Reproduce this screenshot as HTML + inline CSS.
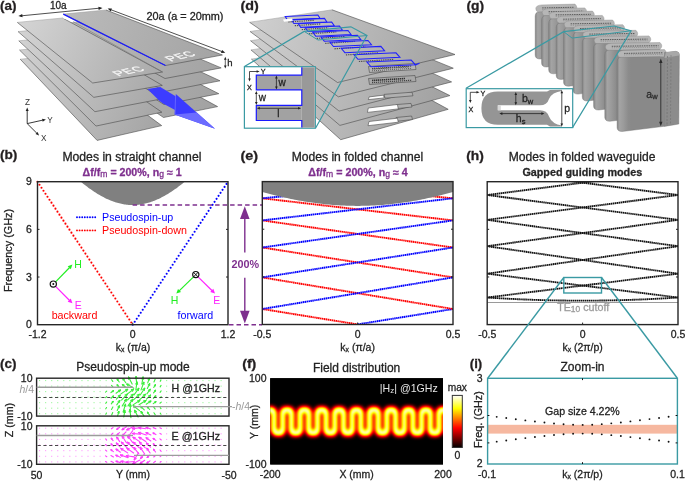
<!DOCTYPE html>
<html><head><meta charset="utf-8"><style>
html,body{margin:0;padding:0;background:#fff;}
svg{display:block;will-change:transform;}
text{font-family:"Liberation Sans",sans-serif;stroke-width:0.28px;paint-order:stroke;}
</style></head><body>
<svg width="685" height="481" viewBox="0 0 685 481">
<rect width="685" height="481" fill="#fff"/>
<polygon points="81.08,181.99 82.11,182.84 83.14,183.67 84.18,184.48 85.21,185.29 86.24,186.08 87.28,186.86 88.31,187.63 89.34,188.38 90.38,189.12 91.41,189.84 92.44,190.55 93.48,191.25 94.51,191.93 95.55,192.60 96.58,193.25 97.61,193.89 98.65,194.51 99.68,195.11 100.71,195.70 101.75,196.28 102.78,196.83 103.81,197.37 104.85,197.90 105.88,198.40 106.91,198.89 107.95,199.37 108.98,199.82 110.01,200.26 111.05,200.68 112.08,201.08 113.11,201.46 114.15,201.82 115.18,202.17 116.21,202.49 117.25,202.80 118.28,203.09 119.31,203.36 120.35,203.61 121.38,203.84 122.42,204.05 123.45,204.24 124.48,204.41 125.52,204.56 126.55,204.69 127.58,204.80 128.62,204.89 129.65,204.97 130.68,205.02 131.72,205.05 132.75,205.06 133.78,205.05 134.82,205.02 135.85,204.97 136.88,204.89 137.92,204.80 138.95,204.69 139.98,204.56 141.02,204.41 142.05,204.24 143.08,204.05 144.12,203.84 145.15,203.61 146.19,203.36 147.22,203.09 148.25,202.80 149.29,202.49 150.32,202.17 151.35,201.82 152.39,201.46 153.42,201.08 154.45,200.68 155.49,200.26 156.52,199.82 157.55,199.37 158.59,198.89 159.62,198.40 160.65,197.90 161.69,197.37 162.72,196.83 163.75,196.28 164.79,195.70 165.82,195.11 166.85,194.51 167.89,193.89 168.92,193.25 169.95,192.60 170.99,191.93 172.02,191.25 173.06,190.55 174.09,189.84 175.12,189.12 176.16,188.38 177.19,187.63 178.22,186.86 179.26,186.08 180.29,185.29 181.32,184.48 182.36,183.67 183.39,182.84 184.42,181.99" fill="#808080" stroke="none" stroke-width="0.5" />
<line x1="37.5" y1="181.7" x2="132.75" y2="324.7" stroke="#ff0000" stroke-width="2.1" stroke-linecap="round" stroke-dasharray="0 3.6"/>
<line x1="132.75" y1="324.7" x2="228" y2="181.7" stroke="#0000ff" stroke-width="2.1" stroke-linecap="round" stroke-dasharray="0 3.6"/>
<rect x="37.5" y="181.7" width="190.5" height="143.0" fill="none" stroke="#262626" stroke-width="1.4"/>
<line x1="37.50" y1="277.03" x2="39.50" y2="277.03" stroke="#262626" stroke-width="1" />
<line x1="228.00" y1="277.03" x2="226.00" y2="277.03" stroke="#262626" stroke-width="1" />
<line x1="37.50" y1="229.37" x2="39.50" y2="229.37" stroke="#262626" stroke-width="1" />
<line x1="228.00" y1="229.37" x2="226.00" y2="229.37" stroke="#262626" stroke-width="1" />
<line x1="132.75" y1="324.70" x2="132.75" y2="322.70" stroke="#262626" stroke-width="1" />
<text x="31.80" y="328.40" font-size="10.5" text-anchor="end" fill="#222" stroke="#222" font-weight="normal" >0</text>
<text x="31.80" y="280.73" font-size="10.5" text-anchor="end" fill="#222" stroke="#222" font-weight="normal" >3</text>
<text x="31.80" y="233.07" font-size="10.5" text-anchor="end" fill="#222" stroke="#222" font-weight="normal" >6</text>
<text x="31.80" y="185.40" font-size="10.5" text-anchor="end" fill="#222" stroke="#222" font-weight="normal" >9</text>
<text x="37.50" y="338.00" font-size="10.5" text-anchor="middle" fill="#222" stroke="#222" font-weight="normal" >-1.2</text>
<text x="132.75" y="338.00" font-size="10.5" text-anchor="middle" fill="#222" stroke="#222" font-weight="normal" >0</text>
<text x="228.00" y="338.00" font-size="10.5" text-anchor="middle" fill="#222" stroke="#222" font-weight="normal" >1.2</text>
<text x="133" y="351" font-size="10.5" text-anchor="middle" fill="#222" stroke="#222" font-family="Liberation Sans, sans-serif">k<tspan font-size="6.8" dy="0.6">x</tspan><tspan dy="-0.6"> (π/a)</tspan></text>
<text transform="translate(11.9,250.5) rotate(-90)" font-size="10.8" text-anchor="middle" fill="#222" stroke="#222" font-family="Liberation Sans, sans-serif" textLength="83" lengthAdjust="spacingAndGlyphs">Frequency (GHz)</text>
<text x="131.90" y="161.00" font-size="12" text-anchor="middle" fill="#222" stroke="#222" font-weight="normal" textLength="139" lengthAdjust="spacingAndGlyphs" >Modes in straight channel</text>
<text x="82.6" y="176" font-size="10.2" font-weight="bold" fill="#7E2F8E" stroke="#7E2F8E" font-family="Liberation Sans, sans-serif" textLength="99" lengthAdjust="spacingAndGlyphs">Δf/f<tspan font-size="8.2" font-weight="normal" dy="0.8">m</tspan><tspan dy="-0.8"> = 200%, n</tspan><tspan font-size="8.2" font-weight="normal" dy="1.2">g</tspan><tspan dy="-1.2"> ≈ 1</tspan></text>
<text x="0.00" y="159.40" font-size="12.3" text-anchor="start" fill="#231f20" stroke="#231f20" font-weight="bold" textLength="17.4" lengthAdjust="spacingAndGlyphs" >(b)</text>
<line x1="77" y1="217.3" x2="97.2" y2="217.3" stroke="#0000ff" stroke-width="1.9" stroke-linecap="round" stroke-dasharray="0 2.6"/>
<line x1="77" y1="230.4" x2="97.2" y2="230.4" stroke="#ff0000" stroke-width="1.9" stroke-linecap="round" stroke-dasharray="0 2.6"/>
<text x="102.00" y="220.60" font-size="10.7" text-anchor="start" fill="#0000ff" stroke="none" font-weight="normal" >Pseudospin-up</text>
<text x="102.00" y="233.60" font-size="10.7" text-anchor="start" fill="#ff0000" stroke="none" font-weight="normal" >Pseudospin-down</text>
<line x1="55.60" y1="281.80" x2="69.61" y2="267.46" stroke="#22ee22" stroke-width="1.2" />
<polygon points="72.40,264.60 70.83,269.36 67.68,266.28" fill="#22ee22" stroke="none" stroke-width="0.5" />
<line x1="55.60" y1="286.40" x2="69.58" y2="300.46" stroke="#ff22ff" stroke-width="1.2" />
<polygon points="72.40,303.30 67.67,301.66 70.79,298.56" fill="#ff22ff" stroke="none" stroke-width="0.5" />
<circle cx="53.3" cy="284.1" r="3.1" fill="#fff" stroke="#111" stroke-width="1.2"/><circle cx="53.3" cy="284.1" r="1" fill="#111"/>
<text x="74.30" y="267.90" font-size="10.5" text-anchor="start" fill="#22ee22" stroke="none" font-weight="normal" >H</text>
<text x="74.80" y="308.60" font-size="10.5" text-anchor="start" fill="#ff22ff" stroke="none" font-weight="normal" >E</text>
<text x="74.50" y="318.60" font-size="10.7" text-anchor="middle" fill="#ff0000" stroke="none" font-weight="normal" >backward</text>
<line x1="193.80" y1="276.60" x2="179.17" y2="290.81" stroke="#22ee22" stroke-width="1.2" />
<polygon points="176.30,293.60 177.99,288.89 181.06,292.04" fill="#22ee22" stroke="none" stroke-width="0.5" />
<line x1="197.80" y1="276.60" x2="212.16" y2="290.79" stroke="#ff22ff" stroke-width="1.2" />
<polygon points="215.00,293.60 210.25,292.00 213.35,288.87" fill="#ff22ff" stroke="none" stroke-width="0.5" />
<circle cx="195.8" cy="274.6" r="3.1" fill="#fff" stroke="#111" stroke-width="1.2"/><path d="M193.7,272.5 L197.9,276.7 M197.9,272.5 L193.7,276.7" stroke="#111" stroke-width="1"/>
<text x="170.80" y="304.40" font-size="10.5" text-anchor="start" fill="#22ee22" stroke="none" font-weight="normal" >H</text>
<text x="213.20" y="304.40" font-size="10.5" text-anchor="start" fill="#ff22ff" stroke="none" font-weight="normal" >E</text>
<text x="195.40" y="318.60" font-size="10.7" text-anchor="middle" fill="#0000ff" stroke="none" font-weight="normal" >forward</text>
<line x1="132.6" y1="205" x2="262" y2="205" stroke="#7E2F8E" stroke-width="1.5" stroke-dasharray="4.5 3"/>
<line x1="229" y1="324.7" x2="262" y2="324.7" stroke="#7E2F8E" stroke-width="1.5" stroke-dasharray="4.5 3"/>
<line x1="244.80" y1="215.00" x2="244.80" y2="252.50" stroke="#7E2F8E" stroke-width="1.4" />
<line x1="244.80" y1="277.80" x2="244.80" y2="313.00" stroke="#7E2F8E" stroke-width="1.4" />
<polygon points="244.80,206.20 240.00,219.00 249.60,219.00" fill="#7E2F8E" stroke="none" stroke-width="0.5" />
<polygon points="244.80,323.50 240.00,310.80 249.60,310.80" fill="#7E2F8E" stroke="none" stroke-width="0.5" />
<text x="245.20" y="268.40" font-size="10.8" text-anchor="middle" fill="#7E2F8E" stroke="none" font-weight="bold" >200%</text>
<clipPath id="ce"><rect x="262.3" y="181.6" width="190.7" height="142.9"/></clipPath>
<g clip-path="url(#ce)">
<line x1="262.3" y1="309.0" x2="357.65" y2="324.4" stroke="#ff0000" stroke-width="1.9" stroke-dasharray="1.5 0.45"/>
<line x1="357.65" y1="324.4" x2="453" y2="309.0" stroke="#0000ff" stroke-width="1.9" stroke-dasharray="1.5 0.45"/>
<line x1="262.3" y1="277.4" x2="453" y2="309.0" stroke="#ff0000" stroke-width="1.9" stroke-dasharray="1.5 0.45"/>
<line x1="262.3" y1="247.5" x2="453" y2="277.4" stroke="#ff0000" stroke-width="1.9" stroke-dasharray="1.5 0.45"/>
<line x1="262.3" y1="220.4" x2="453" y2="247.5" stroke="#ff0000" stroke-width="1.9" stroke-dasharray="1.5 0.45"/>
<line x1="262.3" y1="198.3" x2="453" y2="220.4" stroke="#ff0000" stroke-width="1.9" stroke-dasharray="1.5 0.45"/>
<line x1="262.3" y1="180.3" x2="453" y2="198.3" stroke="#ff0000" stroke-width="1.9" stroke-dasharray="1.5 0.45"/>
<line x1="262.3" y1="164" x2="453" y2="180.3" stroke="#ff0000" stroke-width="1.9" stroke-dasharray="1.5 0.45"/>
<line x1="262.3" y1="309.0" x2="453" y2="277.4" stroke="#0000ff" stroke-width="1.9" stroke-dasharray="1.5 0.45"/>
<line x1="262.3" y1="277.4" x2="453" y2="247.5" stroke="#0000ff" stroke-width="1.9" stroke-dasharray="1.5 0.45"/>
<line x1="262.3" y1="247.5" x2="453" y2="220.4" stroke="#0000ff" stroke-width="1.9" stroke-dasharray="1.5 0.45"/>
<line x1="262.3" y1="220.4" x2="453" y2="198.3" stroke="#0000ff" stroke-width="1.9" stroke-dasharray="1.5 0.45"/>
<line x1="262.3" y1="198.3" x2="453" y2="180.3" stroke="#0000ff" stroke-width="1.9" stroke-dasharray="1.5 0.45"/>
<line x1="262.3" y1="180.3" x2="453" y2="164" stroke="#0000ff" stroke-width="1.9" stroke-dasharray="1.5 0.45"/>
<polygon points="262.30,179.60 262.30,192.04 264.21,192.56 266.11,193.07 268.02,193.57 269.93,194.07 271.83,194.55 273.74,195.03 275.65,195.50 277.56,195.96 279.46,196.41 281.37,196.85 283.28,197.28 285.18,197.70 287.09,198.12 289.00,198.52 290.90,198.91 292.81,199.29 294.72,199.67 296.63,200.03 298.53,200.38 300.44,200.73 302.35,201.06 304.25,201.38 306.16,201.69 308.07,201.99 309.97,202.28 311.88,202.56 313.79,202.83 315.70,203.09 317.60,203.33 319.51,203.57 321.42,203.79 323.32,204.01 325.23,204.21 327.14,204.40 329.04,204.58 330.95,204.75 332.86,204.91 334.77,205.05 336.67,205.19 338.58,205.31 340.49,205.42 342.39,205.52 344.30,205.61 346.21,205.68 348.11,205.75 350.02,205.80 351.93,205.84 353.84,205.87 355.74,205.89 357.65,205.89 359.56,205.89 361.46,205.87 363.37,205.84 365.28,205.80 367.19,205.75 369.09,205.68 371.00,205.61 372.91,205.52 374.81,205.42 376.72,205.31 378.63,205.19 380.53,205.05 382.44,204.91 384.35,204.75 386.25,204.58 388.16,204.40 390.07,204.21 391.98,204.01 393.88,203.79 395.79,203.57 397.70,203.33 399.60,203.09 401.51,202.83 403.42,202.56 405.32,202.28 407.23,201.99 409.14,201.69 411.05,201.38 412.95,201.06 414.86,200.73 416.77,200.38 418.67,200.03 420.58,199.67 422.49,199.29 424.39,198.91 426.30,198.52 428.21,198.12 430.12,197.70 432.02,197.28 433.93,196.85 435.84,196.41 437.74,195.96 439.65,195.50 441.56,195.03 443.46,194.55 445.37,194.07 447.28,193.57 449.19,193.07 451.09,192.56 453.00,192.04 453.00,179.60" fill="#808080" stroke="none" stroke-width="0.5" />
</g>
<rect x="262.3" y="181.6" width="190.7" height="142.9" fill="none" stroke="#262626" stroke-width="1.4"/>
<line x1="262.30" y1="276.87" x2="264.30" y2="276.87" stroke="#262626" stroke-width="1" />
<line x1="453.00" y1="276.87" x2="451.00" y2="276.87" stroke="#262626" stroke-width="1" />
<line x1="262.30" y1="229.23" x2="264.30" y2="229.23" stroke="#262626" stroke-width="1" />
<line x1="453.00" y1="229.23" x2="451.00" y2="229.23" stroke="#262626" stroke-width="1" />
<line x1="357.65" y1="324.50" x2="357.65" y2="322.50" stroke="#262626" stroke-width="1" />
<text x="262.30" y="338.00" font-size="10.5" text-anchor="middle" fill="#222" stroke="#222" font-weight="normal" >-0.5</text>
<text x="357.65" y="338.00" font-size="10.5" text-anchor="middle" fill="#222" stroke="#222" font-weight="normal" >0</text>
<text x="453.00" y="338.00" font-size="10.5" text-anchor="middle" fill="#222" stroke="#222" font-weight="normal" >0.5</text>
<text x="357.65" y="351" font-size="10.5" text-anchor="middle" fill="#222" stroke="#222" font-family="Liberation Sans, sans-serif">k<tspan font-size="6.8" dy="0.6">x</tspan><tspan dy="-0.6"> (π/a)</tspan></text>
<text x="357.40" y="161.00" font-size="12" text-anchor="middle" fill="#222" stroke="#222" font-weight="normal" textLength="131.5" lengthAdjust="spacingAndGlyphs" >Modes in folded channel</text>
<text x="308.3" y="176" font-size="10.2" font-weight="bold" fill="#7E2F8E" stroke="#7E2F8E" font-family="Liberation Sans, sans-serif" textLength="99.5" lengthAdjust="spacingAndGlyphs">Δf/f<tspan font-size="8.2" font-weight="normal" dy="0.8">m</tspan><tspan dy="-0.8"> = 200%, n</tspan><tspan font-size="8.2" font-weight="normal" dy="1.2">g</tspan><tspan dy="-1.2"> ≈ 4</tspan></text>
<text x="240.40" y="159.80" font-size="12.3" text-anchor="start" fill="#231f20" stroke="#231f20" font-weight="bold" textLength="17.6" lengthAdjust="spacingAndGlyphs" >(e)</text>
<clipPath id="ch"><rect x="487.2" y="181.7" width="190.8" height="142.90000000000003"/></clipPath>
<g clip-path="url(#ch)">
<line x1="487.20" y1="302.50" x2="678.00" y2="302.50" stroke="#9a9a9a" stroke-width="1.2" />
<line x1="487.2" y1="297.5" x2="678" y2="273.7" stroke="#111" stroke-width="1.85" stroke-dasharray="1.5 0.45"/>
<line x1="487.2" y1="273.7" x2="678" y2="297.5" stroke="#111" stroke-width="1.85" stroke-dasharray="1.5 0.45"/>
<line x1="487.2" y1="273.7" x2="678" y2="246.2" stroke="#111" stroke-width="1.85" stroke-dasharray="1.5 0.45"/>
<line x1="487.2" y1="246.2" x2="678" y2="273.7" stroke="#111" stroke-width="1.85" stroke-dasharray="1.5 0.45"/>
<line x1="487.2" y1="246.2" x2="678" y2="219.9" stroke="#111" stroke-width="1.85" stroke-dasharray="1.5 0.45"/>
<line x1="487.2" y1="219.9" x2="678" y2="246.2" stroke="#111" stroke-width="1.85" stroke-dasharray="1.5 0.45"/>
<line x1="487.2" y1="219.9" x2="678" y2="195.0" stroke="#111" stroke-width="1.85" stroke-dasharray="1.5 0.45"/>
<line x1="487.2" y1="195.0" x2="678" y2="219.9" stroke="#111" stroke-width="1.85" stroke-dasharray="1.5 0.45"/>
<line x1="487.2" y1="195.0" x2="678" y2="170.3" stroke="#111" stroke-width="1.85" stroke-dasharray="1.5 0.45"/>
<line x1="487.2" y1="170.3" x2="678" y2="195.0" stroke="#111" stroke-width="1.85" stroke-dasharray="1.5 0.45"/>
<path d="M487.2,297.5 Q582.6,303.8 678,297.5" fill="none" stroke="#111" stroke-width="1.85" stroke-dasharray="1.5 0.45"/>
</g>
<rect x="487.2" y="181.7" width="190.8" height="142.90000000000003" fill="none" stroke="#262626" stroke-width="1.4"/>
<line x1="487.20" y1="276.97" x2="489.20" y2="276.97" stroke="#262626" stroke-width="1" />
<line x1="678.00" y1="276.97" x2="676.00" y2="276.97" stroke="#262626" stroke-width="1" />
<line x1="487.20" y1="229.33" x2="489.20" y2="229.33" stroke="#262626" stroke-width="1" />
<line x1="678.00" y1="229.33" x2="676.00" y2="229.33" stroke="#262626" stroke-width="1" />
<line x1="582.60" y1="324.60" x2="582.60" y2="322.60" stroke="#262626" stroke-width="1" />
<text x="487.20" y="338.00" font-size="10.5" text-anchor="middle" fill="#222" stroke="#222" font-weight="normal" >-0.5</text>
<text x="582.60" y="338.00" font-size="10.5" text-anchor="middle" fill="#222" stroke="#222" font-weight="normal" >0</text>
<text x="678.00" y="338.00" font-size="10.5" text-anchor="middle" fill="#222" stroke="#222" font-weight="normal" >0.5</text>
<text x="582.6" y="351" font-size="10.5" text-anchor="middle" fill="#222" stroke="#222" font-family="Liberation Sans, sans-serif">k<tspan font-size="6.8" dy="0.6">x</tspan><tspan dy="-0.6"> (2π/p)</tspan></text>
<text x="582.10" y="161.00" font-size="12" text-anchor="middle" fill="#222" stroke="#222" font-weight="normal" textLength="146.6" lengthAdjust="spacingAndGlyphs" >Modes in folded waveguide</text>
<text x="582.30" y="175.60" font-size="10.7" text-anchor="middle" fill="#262626" stroke="#262626" font-weight="bold" textLength="119.8" lengthAdjust="spacingAndGlyphs" >Gapped guiding modes</text>
<text x="466.20" y="159.80" font-size="12.3" text-anchor="start" fill="#231f20" stroke="#231f20" font-weight="bold" textLength="17.6" lengthAdjust="spacingAndGlyphs" >(h)</text>
<text x="583.2" y="311" font-size="10.4" text-anchor="middle" fill="#9a9a9a" stroke="#9a9a9a" font-family="Liberation Sans, sans-serif" textLength="52" lengthAdjust="spacingAndGlyphs">TE<tspan font-size="8.2" dy="1.3">10</tspan><tspan dy="-1.3"> cutoff</tspan></text>
<rect x="563.8" y="277.5" width="37.7" height="15.5" fill="none" stroke="#3A9AA3" stroke-width="1.4"/>
<line x1="563.80" y1="277.50" x2="487.90" y2="378.00" stroke="#3A9AA3" stroke-width="1.4" />
<line x1="601.50" y1="277.50" x2="677.20" y2="378.00" stroke="#3A9AA3" stroke-width="1.4" />
<rect x="487.6" y="424.8" width="189.79999999999995" height="8.8" fill="#F6B8A0"/>
<circle cx="496.70" cy="416.83" r="0.95" fill="#111"/>
<circle cx="496.70" cy="441.67" r="0.95" fill="#111"/>
<circle cx="506.25" cy="418.04" r="0.95" fill="#111"/>
<circle cx="506.25" cy="440.46" r="0.95" fill="#111"/>
<circle cx="515.80" cy="419.23" r="0.95" fill="#111"/>
<circle cx="515.80" cy="439.27" r="0.95" fill="#111"/>
<circle cx="525.35" cy="420.38" r="0.95" fill="#111"/>
<circle cx="525.35" cy="438.12" r="0.95" fill="#111"/>
<circle cx="534.90" cy="421.48" r="0.95" fill="#111"/>
<circle cx="534.90" cy="437.02" r="0.95" fill="#111"/>
<circle cx="544.45" cy="422.52" r="0.95" fill="#111"/>
<circle cx="544.45" cy="435.98" r="0.95" fill="#111"/>
<circle cx="554.00" cy="423.45" r="0.95" fill="#111"/>
<circle cx="554.00" cy="435.05" r="0.95" fill="#111"/>
<circle cx="563.55" cy="424.21" r="0.95" fill="#111"/>
<circle cx="563.55" cy="434.29" r="0.95" fill="#111"/>
<circle cx="573.10" cy="424.73" r="0.95" fill="#111"/>
<circle cx="573.10" cy="433.77" r="0.95" fill="#111"/>
<circle cx="582.65" cy="424.90" r="0.95" fill="#111"/>
<circle cx="582.65" cy="433.60" r="0.95" fill="#111"/>
<circle cx="592.20" cy="424.69" r="0.95" fill="#111"/>
<circle cx="592.20" cy="433.81" r="0.95" fill="#111"/>
<circle cx="601.75" cy="424.15" r="0.95" fill="#111"/>
<circle cx="601.75" cy="434.35" r="0.95" fill="#111"/>
<circle cx="611.30" cy="423.37" r="0.95" fill="#111"/>
<circle cx="611.30" cy="435.13" r="0.95" fill="#111"/>
<circle cx="620.85" cy="422.43" r="0.95" fill="#111"/>
<circle cx="620.85" cy="436.07" r="0.95" fill="#111"/>
<circle cx="630.40" cy="421.38" r="0.95" fill="#111"/>
<circle cx="630.40" cy="437.12" r="0.95" fill="#111"/>
<circle cx="639.95" cy="420.27" r="0.95" fill="#111"/>
<circle cx="639.95" cy="438.23" r="0.95" fill="#111"/>
<circle cx="649.50" cy="419.12" r="0.95" fill="#111"/>
<circle cx="649.50" cy="439.38" r="0.95" fill="#111"/>
<circle cx="659.05" cy="417.93" r="0.95" fill="#111"/>
<circle cx="659.05" cy="440.57" r="0.95" fill="#111"/>
<circle cx="668.60" cy="416.72" r="0.95" fill="#111"/>
<circle cx="668.60" cy="441.78" r="0.95" fill="#111"/>
<rect x="487.6" y="378.3" width="189.79999999999995" height="85.69999999999999" fill="none" stroke="#3A9AA3" stroke-width="1.4"/>
<line x1="487.60" y1="415.50" x2="489.40" y2="415.50" stroke="#111" stroke-width="1" />
<line x1="677.40" y1="415.50" x2="675.60" y2="415.50" stroke="#111" stroke-width="1" />
<line x1="487.60" y1="442.90" x2="489.40" y2="442.90" stroke="#111" stroke-width="1" />
<line x1="677.40" y1="442.90" x2="675.60" y2="442.90" stroke="#111" stroke-width="1" />
<line x1="582.50" y1="378.30" x2="582.50" y2="380.10" stroke="#111" stroke-width="1" />
<line x1="582.50" y1="464.00" x2="582.50" y2="462.20" stroke="#111" stroke-width="1" />
<text x="482.50" y="382.00" font-size="10.5" text-anchor="end" fill="#222" stroke="#222" font-weight="normal" >3</text>
<text x="482.50" y="467.20" font-size="10.5" text-anchor="end" fill="#222" stroke="#222" font-weight="normal" >2</text>
<text x="487.00" y="478.20" font-size="10.5" text-anchor="middle" fill="#222" stroke="#222" font-weight="normal" >-0.1</text>
<text x="677.50" y="478.20" font-size="10.5" text-anchor="middle" fill="#222" stroke="#222" font-weight="normal" >0.1</text>
<text x="582.5" y="478.2" font-size="10.5" text-anchor="middle" fill="#222" stroke="#222" font-family="Liberation Sans, sans-serif">k<tspan font-size="6.8" dy="0.6">x</tspan><tspan dy="-0.6"> (2π/p)</tspan></text>
<text transform="translate(481.9,419.6) rotate(-90)" font-size="10.76" text-anchor="middle" fill="#222" stroke="#222" font-family="Liberation Sans, sans-serif">Freq. (GHz)</text>
<text x="582.50" y="371.30" font-size="12" text-anchor="middle" fill="#222" stroke="#222" font-weight="normal" >Zoom-in</text>
<text x="582.40" y="415.30" font-size="10.6" text-anchor="middle" fill="#222" stroke="#222" font-weight="normal" >Gap size 4.22%</text>
<text x="469.80" y="368.40" font-size="12.3" text-anchor="start" fill="#231f20" stroke="#231f20" font-weight="bold" textLength="12.4" lengthAdjust="spacingAndGlyphs" >(i)</text>
<rect x="39.10" y="380.10" width="1" height="1" fill="#3cee3c" opacity="0.6"/>
<rect x="45.15" y="380.10" width="1" height="1" fill="#3cee3c" opacity="0.6"/>
<rect x="51.20" y="380.10" width="1" height="1" fill="#3cee3c" opacity="0.6"/>
<rect x="57.25" y="380.10" width="1" height="1" fill="#3cee3c" opacity="0.6"/>
<rect x="63.30" y="380.10" width="1" height="1" fill="#3cee3c" opacity="0.6"/>
<rect x="69.35" y="380.10" width="1" height="1" fill="#3cee3c" opacity="0.6"/>
<rect x="75.40" y="380.10" width="1" height="1" fill="#3cee3c" opacity="0.6"/>
<rect x="81.45" y="380.10" width="1" height="1" fill="#3cee3c" opacity="0.6"/>
<rect x="87.50" y="380.10" width="1" height="1" fill="#3cee3c" opacity="0.6"/>
<rect x="93.55" y="380.10" width="1" height="1" fill="#3cee3c" opacity="0.6"/>
<rect x="99.60" y="380.10" width="1" height="1" fill="#3cee3c" opacity="0.6"/>
<rect x="105.65" y="380.10" width="1" height="1" fill="#3cee3c" opacity="0.6"/>
<line x1="112.80" y1="381.43" x2="111.60" y2="379.77" stroke="#3cee3c" stroke-width="1.1" stroke-linecap="round"/>
<line x1="119.24" y1="381.96" x2="117.26" y2="379.24" stroke="#3cee3c" stroke-width="1.1" stroke-linecap="round"/>
<line x1="117.26" y1="379.24" x2="117.47" y2="380.40" stroke="#3cee3c" stroke-width="1.1" stroke-linecap="round"/>
<line x1="117.26" y1="379.24" x2="118.30" y2="379.80" stroke="#3cee3c" stroke-width="1.1" stroke-linecap="round"/>
<line x1="125.81" y1="382.73" x2="122.79" y2="378.47" stroke="#3cee3c" stroke-width="1.1" stroke-linecap="round"/>
<line x1="122.79" y1="378.47" x2="123.10" y2="380.27" stroke="#3cee3c" stroke-width="1.1" stroke-linecap="round"/>
<line x1="122.79" y1="378.47" x2="124.39" y2="379.36" stroke="#3cee3c" stroke-width="1.1" stroke-linecap="round"/>
<line x1="132.15" y1="384.08" x2="128.55" y2="377.12" stroke="#3cee3c" stroke-width="1.1" stroke-linecap="round"/>
<line x1="128.55" y1="377.12" x2="128.61" y2="379.31" stroke="#3cee3c" stroke-width="1.1" stroke-linecap="round"/>
<line x1="128.55" y1="377.12" x2="130.31" y2="378.44" stroke="#3cee3c" stroke-width="1.1" stroke-linecap="round"/>
<line x1="136.79" y1="384.58" x2="136.01" y2="376.62" stroke="#3cee3c" stroke-width="1.1" stroke-linecap="round"/>
<line x1="136.01" y1="376.62" x2="135.25" y2="378.69" stroke="#3cee3c" stroke-width="1.1" stroke-linecap="round"/>
<line x1="136.01" y1="376.62" x2="137.15" y2="378.50" stroke="#3cee3c" stroke-width="1.1" stroke-linecap="round"/>
<line x1="141.84" y1="384.06" x2="143.06" y2="377.14" stroke="#3cee3c" stroke-width="1.1" stroke-linecap="round"/>
<line x1="143.06" y1="377.14" x2="141.77" y2="378.92" stroke="#3cee3c" stroke-width="1.1" stroke-linecap="round"/>
<line x1="143.06" y1="377.14" x2="143.66" y2="379.25" stroke="#3cee3c" stroke-width="1.1" stroke-linecap="round"/>
<line x1="147.73" y1="382.89" x2="149.27" y2="378.31" stroke="#3cee3c" stroke-width="1.1" stroke-linecap="round"/>
<line x1="149.27" y1="378.31" x2="148.09" y2="379.52" stroke="#3cee3c" stroke-width="1.1" stroke-linecap="round"/>
<line x1="149.27" y1="378.31" x2="149.48" y2="379.99" stroke="#3cee3c" stroke-width="1.1" stroke-linecap="round"/>
<line x1="153.95" y1="381.95" x2="155.15" y2="379.25" stroke="#3cee3c" stroke-width="1.1" stroke-linecap="round"/>
<line x1="160.22" y1="381.32" x2="160.98" y2="379.88" stroke="#3cee3c" stroke-width="1.1" stroke-linecap="round"/>
<rect x="166.15" y="380.10" width="1" height="1" fill="#3cee3c" opacity="0.6"/>
<rect x="172.20" y="380.10" width="1" height="1" fill="#3cee3c" opacity="0.6"/>
<rect x="178.25" y="380.10" width="1" height="1" fill="#3cee3c" opacity="0.6"/>
<rect x="184.30" y="380.10" width="1" height="1" fill="#3cee3c" opacity="0.6"/>
<rect x="190.35" y="380.10" width="1" height="1" fill="#3cee3c" opacity="0.6"/>
<rect x="196.40" y="380.10" width="1" height="1" fill="#3cee3c" opacity="0.6"/>
<rect x="202.45" y="380.10" width="1" height="1" fill="#3cee3c" opacity="0.6"/>
<rect x="208.50" y="380.10" width="1" height="1" fill="#3cee3c" opacity="0.6"/>
<rect x="214.55" y="380.10" width="1" height="1" fill="#3cee3c" opacity="0.6"/>
<rect x="220.60" y="380.10" width="1" height="1" fill="#3cee3c" opacity="0.6"/>
<rect x="39.10" y="385.62" width="1" height="1" fill="#3cee3c" opacity="0.6"/>
<rect x="45.15" y="385.62" width="1" height="1" fill="#3cee3c" opacity="0.6"/>
<rect x="51.20" y="385.62" width="1" height="1" fill="#3cee3c" opacity="0.6"/>
<rect x="57.25" y="385.62" width="1" height="1" fill="#3cee3c" opacity="0.6"/>
<rect x="63.30" y="385.62" width="1" height="1" fill="#3cee3c" opacity="0.6"/>
<rect x="69.35" y="385.62" width="1" height="1" fill="#3cee3c" opacity="0.6"/>
<rect x="75.40" y="385.62" width="1" height="1" fill="#3cee3c" opacity="0.6"/>
<rect x="81.45" y="385.62" width="1" height="1" fill="#3cee3c" opacity="0.6"/>
<rect x="87.50" y="385.62" width="1" height="1" fill="#3cee3c" opacity="0.6"/>
<rect x="93.55" y="385.62" width="1" height="1" fill="#3cee3c" opacity="0.6"/>
<rect x="99.60" y="385.62" width="1" height="1" fill="#3cee3c" opacity="0.6"/>
<rect x="105.65" y="385.62" width="1" height="1" fill="#3cee3c" opacity="0.6"/>
<line x1="112.85" y1="386.89" x2="111.55" y2="385.34" stroke="#3cee3c" stroke-width="1.1" stroke-linecap="round"/>
<line x1="119.35" y1="387.32" x2="117.15" y2="384.91" stroke="#3cee3c" stroke-width="1.1" stroke-linecap="round"/>
<line x1="117.15" y1="384.91" x2="117.48" y2="386.01" stroke="#3cee3c" stroke-width="1.1" stroke-linecap="round"/>
<line x1="117.15" y1="384.91" x2="118.21" y2="385.34" stroke="#3cee3c" stroke-width="1.1" stroke-linecap="round"/>
<line x1="126.17" y1="387.77" x2="122.43" y2="384.47" stroke="#3cee3c" stroke-width="1.1" stroke-linecap="round"/>
<line x1="122.43" y1="384.47" x2="123.10" y2="386.08" stroke="#3cee3c" stroke-width="1.1" stroke-linecap="round"/>
<line x1="122.43" y1="384.47" x2="124.11" y2="384.94" stroke="#3cee3c" stroke-width="1.1" stroke-linecap="round"/>
<line x1="133.80" y1="388.14" x2="126.90" y2="384.09" stroke="#3cee3c" stroke-width="1.1" stroke-linecap="round"/>
<line x1="126.90" y1="384.09" x2="128.12" y2="385.92" stroke="#3cee3c" stroke-width="1.1" stroke-linecap="round"/>
<line x1="126.90" y1="384.09" x2="129.09" y2="384.27" stroke="#3cee3c" stroke-width="1.1" stroke-linecap="round"/>
<line x1="135.81" y1="390.07" x2="136.99" y2="382.16" stroke="#3cee3c" stroke-width="1.1" stroke-linecap="round"/>
<line x1="136.99" y1="382.16" x2="135.75" y2="383.98" stroke="#3cee3c" stroke-width="1.1" stroke-linecap="round"/>
<line x1="136.99" y1="382.16" x2="137.64" y2="384.26" stroke="#3cee3c" stroke-width="1.1" stroke-linecap="round"/>
<line x1="141.06" y1="389.87" x2="143.84" y2="382.37" stroke="#3cee3c" stroke-width="1.1" stroke-linecap="round"/>
<line x1="143.84" y1="382.37" x2="142.26" y2="383.89" stroke="#3cee3c" stroke-width="1.1" stroke-linecap="round"/>
<line x1="143.84" y1="382.37" x2="144.05" y2="384.56" stroke="#3cee3c" stroke-width="1.1" stroke-linecap="round"/>
<line x1="147.32" y1="388.49" x2="149.68" y2="383.75" stroke="#3cee3c" stroke-width="1.1" stroke-linecap="round"/>
<line x1="149.68" y1="383.75" x2="148.21" y2="384.88" stroke="#3cee3c" stroke-width="1.1" stroke-linecap="round"/>
<line x1="149.68" y1="383.75" x2="149.66" y2="385.60" stroke="#3cee3c" stroke-width="1.1" stroke-linecap="round"/>
<line x1="153.75" y1="387.48" x2="155.35" y2="384.76" stroke="#3cee3c" stroke-width="1.1" stroke-linecap="round"/>
<line x1="155.35" y1="384.76" x2="154.43" y2="385.37" stroke="#3cee3c" stroke-width="1.1" stroke-linecap="round"/>
<line x1="155.35" y1="384.76" x2="155.26" y2="385.86" stroke="#3cee3c" stroke-width="1.1" stroke-linecap="round"/>
<line x1="160.13" y1="386.83" x2="161.07" y2="385.40" stroke="#3cee3c" stroke-width="1.1" stroke-linecap="round"/>
<rect x="166.15" y="385.62" width="1" height="1" fill="#3cee3c" opacity="0.6"/>
<rect x="172.20" y="385.62" width="1" height="1" fill="#3cee3c" opacity="0.6"/>
<rect x="178.25" y="385.62" width="1" height="1" fill="#3cee3c" opacity="0.6"/>
<rect x="184.30" y="385.62" width="1" height="1" fill="#3cee3c" opacity="0.6"/>
<rect x="190.35" y="385.62" width="1" height="1" fill="#3cee3c" opacity="0.6"/>
<rect x="196.40" y="385.62" width="1" height="1" fill="#3cee3c" opacity="0.6"/>
<rect x="202.45" y="385.62" width="1" height="1" fill="#3cee3c" opacity="0.6"/>
<rect x="208.50" y="385.62" width="1" height="1" fill="#3cee3c" opacity="0.6"/>
<rect x="214.55" y="385.62" width="1" height="1" fill="#3cee3c" opacity="0.6"/>
<rect x="220.60" y="385.62" width="1" height="1" fill="#3cee3c" opacity="0.6"/>
<rect x="39.10" y="391.13" width="1" height="1" fill="#3cee3c" opacity="0.6"/>
<rect x="45.15" y="391.13" width="1" height="1" fill="#3cee3c" opacity="0.6"/>
<rect x="51.20" y="391.13" width="1" height="1" fill="#3cee3c" opacity="0.6"/>
<rect x="57.25" y="391.13" width="1" height="1" fill="#3cee3c" opacity="0.6"/>
<rect x="63.30" y="391.13" width="1" height="1" fill="#3cee3c" opacity="0.6"/>
<rect x="69.35" y="391.13" width="1" height="1" fill="#3cee3c" opacity="0.6"/>
<rect x="75.40" y="391.13" width="1" height="1" fill="#3cee3c" opacity="0.6"/>
<rect x="81.45" y="391.13" width="1" height="1" fill="#3cee3c" opacity="0.6"/>
<rect x="87.50" y="391.13" width="1" height="1" fill="#3cee3c" opacity="0.6"/>
<rect x="93.55" y="391.13" width="1" height="1" fill="#3cee3c" opacity="0.6"/>
<rect x="99.60" y="391.13" width="1" height="1" fill="#3cee3c" opacity="0.6"/>
<line x1="105.54" y1="392.13" x2="106.76" y2="391.14" stroke="#3cee3c" stroke-width="1.1" stroke-linecap="round"/>
<line x1="110.99" y1="392.56" x2="113.41" y2="390.70" stroke="#3cee3c" stroke-width="1.1" stroke-linecap="round"/>
<line x1="113.41" y1="390.70" x2="112.36" y2="390.92" stroke="#3cee3c" stroke-width="1.1" stroke-linecap="round"/>
<line x1="113.41" y1="390.70" x2="112.93" y2="391.66" stroke="#3cee3c" stroke-width="1.1" stroke-linecap="round"/>
<line x1="116.07" y1="393.20" x2="120.43" y2="390.07" stroke="#3cee3c" stroke-width="1.1" stroke-linecap="round"/>
<line x1="120.43" y1="390.07" x2="118.58" y2="390.39" stroke="#3cee3c" stroke-width="1.1" stroke-linecap="round"/>
<line x1="120.43" y1="390.07" x2="119.53" y2="391.72" stroke="#3cee3c" stroke-width="1.1" stroke-linecap="round"/>
<line x1="120.97" y1="393.85" x2="127.63" y2="389.41" stroke="#3cee3c" stroke-width="1.1" stroke-linecap="round"/>
<line x1="127.63" y1="389.41" x2="125.45" y2="389.72" stroke="#3cee3c" stroke-width="1.1" stroke-linecap="round"/>
<line x1="127.63" y1="389.41" x2="126.51" y2="391.31" stroke="#3cee3c" stroke-width="1.1" stroke-linecap="round"/>
<line x1="127.18" y1="394.07" x2="133.52" y2="389.20" stroke="#3cee3c" stroke-width="1.1" stroke-linecap="round"/>
<line x1="133.52" y1="389.20" x2="131.37" y2="389.64" stroke="#3cee3c" stroke-width="1.1" stroke-linecap="round"/>
<line x1="133.52" y1="389.20" x2="132.53" y2="391.16" stroke="#3cee3c" stroke-width="1.1" stroke-linecap="round"/>
<line x1="134.04" y1="394.86" x2="138.76" y2="388.40" stroke="#3cee3c" stroke-width="1.1" stroke-linecap="round"/>
<line x1="138.76" y1="388.40" x2="136.82" y2="389.44" stroke="#3cee3c" stroke-width="1.1" stroke-linecap="round"/>
<line x1="138.76" y1="388.40" x2="138.36" y2="390.57" stroke="#3cee3c" stroke-width="1.1" stroke-linecap="round"/>
<line x1="140.22" y1="394.95" x2="144.68" y2="388.31" stroke="#3cee3c" stroke-width="1.1" stroke-linecap="round"/>
<line x1="144.68" y1="388.31" x2="142.78" y2="389.42" stroke="#3cee3c" stroke-width="1.1" stroke-linecap="round"/>
<line x1="144.68" y1="388.31" x2="144.37" y2="390.49" stroke="#3cee3c" stroke-width="1.1" stroke-linecap="round"/>
<line x1="146.86" y1="393.90" x2="150.14" y2="389.37" stroke="#3cee3c" stroke-width="1.1" stroke-linecap="round"/>
<line x1="150.14" y1="389.37" x2="148.42" y2="390.30" stroke="#3cee3c" stroke-width="1.1" stroke-linecap="round"/>
<line x1="150.14" y1="389.37" x2="149.80" y2="391.29" stroke="#3cee3c" stroke-width="1.1" stroke-linecap="round"/>
<line x1="153.55" y1="392.93" x2="155.55" y2="390.34" stroke="#3cee3c" stroke-width="1.1" stroke-linecap="round"/>
<line x1="155.55" y1="390.34" x2="154.53" y2="390.85" stroke="#3cee3c" stroke-width="1.1" stroke-linecap="round"/>
<line x1="155.55" y1="390.34" x2="155.32" y2="391.46" stroke="#3cee3c" stroke-width="1.1" stroke-linecap="round"/>
<line x1="160.05" y1="392.31" x2="161.15" y2="390.95" stroke="#3cee3c" stroke-width="1.1" stroke-linecap="round"/>
<rect x="166.15" y="391.13" width="1" height="1" fill="#3cee3c" opacity="0.6"/>
<rect x="172.20" y="391.13" width="1" height="1" fill="#3cee3c" opacity="0.6"/>
<rect x="178.25" y="391.13" width="1" height="1" fill="#3cee3c" opacity="0.6"/>
<rect x="184.30" y="391.13" width="1" height="1" fill="#3cee3c" opacity="0.6"/>
<rect x="190.35" y="391.13" width="1" height="1" fill="#3cee3c" opacity="0.6"/>
<rect x="196.40" y="391.13" width="1" height="1" fill="#3cee3c" opacity="0.6"/>
<rect x="202.45" y="391.13" width="1" height="1" fill="#3cee3c" opacity="0.6"/>
<rect x="208.50" y="391.13" width="1" height="1" fill="#3cee3c" opacity="0.6"/>
<rect x="214.55" y="391.13" width="1" height="1" fill="#3cee3c" opacity="0.6"/>
<rect x="220.60" y="391.13" width="1" height="1" fill="#3cee3c" opacity="0.6"/>
<rect x="39.10" y="396.65" width="1" height="1" fill="#3cee3c" opacity="0.6"/>
<rect x="45.15" y="396.65" width="1" height="1" fill="#3cee3c" opacity="0.6"/>
<rect x="51.20" y="396.65" width="1" height="1" fill="#3cee3c" opacity="0.6"/>
<rect x="57.25" y="396.65" width="1" height="1" fill="#3cee3c" opacity="0.6"/>
<rect x="63.30" y="396.65" width="1" height="1" fill="#3cee3c" opacity="0.6"/>
<rect x="69.35" y="396.65" width="1" height="1" fill="#3cee3c" opacity="0.6"/>
<rect x="75.40" y="396.65" width="1" height="1" fill="#3cee3c" opacity="0.6"/>
<rect x="81.45" y="396.65" width="1" height="1" fill="#3cee3c" opacity="0.6"/>
<rect x="87.50" y="396.65" width="1" height="1" fill="#3cee3c" opacity="0.6"/>
<rect x="93.55" y="396.65" width="1" height="1" fill="#3cee3c" opacity="0.6"/>
<rect x="99.60" y="396.65" width="1" height="1" fill="#3cee3c" opacity="0.6"/>
<line x1="105.59" y1="397.72" x2="106.71" y2="396.58" stroke="#3cee3c" stroke-width="1.1" stroke-linecap="round"/>
<line x1="111.12" y1="398.25" x2="113.28" y2="396.05" stroke="#3cee3c" stroke-width="1.1" stroke-linecap="round"/>
<line x1="113.28" y1="396.05" x2="112.26" y2="396.41" stroke="#3cee3c" stroke-width="1.1" stroke-linecap="round"/>
<line x1="113.28" y1="396.05" x2="112.93" y2="397.07" stroke="#3cee3c" stroke-width="1.1" stroke-linecap="round"/>
<line x1="116.35" y1="399.10" x2="120.15" y2="395.20" stroke="#3cee3c" stroke-width="1.1" stroke-linecap="round"/>
<line x1="120.15" y1="395.20" x2="118.36" y2="395.85" stroke="#3cee3c" stroke-width="1.1" stroke-linecap="round"/>
<line x1="120.15" y1="395.20" x2="119.55" y2="397.01" stroke="#3cee3c" stroke-width="1.1" stroke-linecap="round"/>
<line x1="121.51" y1="400.02" x2="127.09" y2="394.28" stroke="#3cee3c" stroke-width="1.1" stroke-linecap="round"/>
<line x1="127.09" y1="394.28" x2="125.02" y2="395.03" stroke="#3cee3c" stroke-width="1.1" stroke-linecap="round"/>
<line x1="127.09" y1="394.28" x2="126.39" y2="396.37" stroke="#3cee3c" stroke-width="1.1" stroke-linecap="round"/>
<line x1="127.54" y1="400.00" x2="133.16" y2="394.30" stroke="#3cee3c" stroke-width="1.1" stroke-linecap="round"/>
<line x1="133.16" y1="394.30" x2="131.08" y2="395.04" stroke="#3cee3c" stroke-width="1.1" stroke-linecap="round"/>
<line x1="133.16" y1="394.30" x2="132.45" y2="396.38" stroke="#3cee3c" stroke-width="1.1" stroke-linecap="round"/>
<line x1="133.54" y1="399.95" x2="139.26" y2="394.35" stroke="#3cee3c" stroke-width="1.1" stroke-linecap="round"/>
<line x1="139.26" y1="394.35" x2="137.17" y2="395.05" stroke="#3cee3c" stroke-width="1.1" stroke-linecap="round"/>
<line x1="139.26" y1="394.35" x2="138.51" y2="396.42" stroke="#3cee3c" stroke-width="1.1" stroke-linecap="round"/>
<line x1="139.58" y1="399.94" x2="145.32" y2="394.36" stroke="#3cee3c" stroke-width="1.1" stroke-linecap="round"/>
<line x1="145.32" y1="394.36" x2="143.23" y2="395.06" stroke="#3cee3c" stroke-width="1.1" stroke-linecap="round"/>
<line x1="145.32" y1="394.36" x2="144.57" y2="396.43" stroke="#3cee3c" stroke-width="1.1" stroke-linecap="round"/>
<line x1="146.47" y1="399.13" x2="150.53" y2="395.17" stroke="#3cee3c" stroke-width="1.1" stroke-linecap="round"/>
<line x1="150.53" y1="395.17" x2="148.65" y2="395.80" stroke="#3cee3c" stroke-width="1.1" stroke-linecap="round"/>
<line x1="150.53" y1="395.17" x2="149.86" y2="397.04" stroke="#3cee3c" stroke-width="1.1" stroke-linecap="round"/>
<line x1="153.36" y1="398.31" x2="155.74" y2="395.99" stroke="#3cee3c" stroke-width="1.1" stroke-linecap="round"/>
<line x1="155.74" y1="395.99" x2="154.63" y2="396.36" stroke="#3cee3c" stroke-width="1.1" stroke-linecap="round"/>
<line x1="155.74" y1="395.99" x2="155.34" y2="397.08" stroke="#3cee3c" stroke-width="1.1" stroke-linecap="round"/>
<line x1="159.97" y1="397.77" x2="161.23" y2="396.53" stroke="#3cee3c" stroke-width="1.1" stroke-linecap="round"/>
<rect x="166.15" y="396.65" width="1" height="1" fill="#3cee3c" opacity="0.6"/>
<rect x="172.20" y="396.65" width="1" height="1" fill="#3cee3c" opacity="0.6"/>
<rect x="178.25" y="396.65" width="1" height="1" fill="#3cee3c" opacity="0.6"/>
<rect x="184.30" y="396.65" width="1" height="1" fill="#3cee3c" opacity="0.6"/>
<rect x="190.35" y="396.65" width="1" height="1" fill="#3cee3c" opacity="0.6"/>
<rect x="196.40" y="396.65" width="1" height="1" fill="#3cee3c" opacity="0.6"/>
<rect x="202.45" y="396.65" width="1" height="1" fill="#3cee3c" opacity="0.6"/>
<rect x="208.50" y="396.65" width="1" height="1" fill="#3cee3c" opacity="0.6"/>
<rect x="214.55" y="396.65" width="1" height="1" fill="#3cee3c" opacity="0.6"/>
<rect x="220.60" y="396.65" width="1" height="1" fill="#3cee3c" opacity="0.6"/>
<rect x="39.10" y="402.17" width="1" height="1" fill="#3cee3c" opacity="0.6"/>
<rect x="45.15" y="402.17" width="1" height="1" fill="#3cee3c" opacity="0.6"/>
<rect x="51.20" y="402.17" width="1" height="1" fill="#3cee3c" opacity="0.6"/>
<rect x="57.25" y="402.17" width="1" height="1" fill="#3cee3c" opacity="0.6"/>
<rect x="63.30" y="402.17" width="1" height="1" fill="#3cee3c" opacity="0.6"/>
<rect x="69.35" y="402.17" width="1" height="1" fill="#3cee3c" opacity="0.6"/>
<rect x="75.40" y="402.17" width="1" height="1" fill="#3cee3c" opacity="0.6"/>
<rect x="81.45" y="402.17" width="1" height="1" fill="#3cee3c" opacity="0.6"/>
<rect x="87.50" y="402.17" width="1" height="1" fill="#3cee3c" opacity="0.6"/>
<rect x="93.55" y="402.17" width="1" height="1" fill="#3cee3c" opacity="0.6"/>
<rect x="99.60" y="402.17" width="1" height="1" fill="#3cee3c" opacity="0.6"/>
<line x1="105.66" y1="403.29" x2="106.64" y2="402.05" stroke="#3cee3c" stroke-width="1.1" stroke-linecap="round"/>
<line x1="111.30" y1="403.89" x2="113.10" y2="401.45" stroke="#3cee3c" stroke-width="1.1" stroke-linecap="round"/>
<line x1="113.10" y1="401.45" x2="112.16" y2="401.94" stroke="#3cee3c" stroke-width="1.1" stroke-linecap="round"/>
<line x1="113.10" y1="401.45" x2="112.90" y2="402.49" stroke="#3cee3c" stroke-width="1.1" stroke-linecap="round"/>
<line x1="116.75" y1="404.87" x2="119.75" y2="400.46" stroke="#3cee3c" stroke-width="1.1" stroke-linecap="round"/>
<line x1="119.75" y1="400.46" x2="118.13" y2="401.39" stroke="#3cee3c" stroke-width="1.1" stroke-linecap="round"/>
<line x1="119.75" y1="400.46" x2="119.48" y2="402.31" stroke="#3cee3c" stroke-width="1.1" stroke-linecap="round"/>
<line x1="122.20" y1="406.07" x2="126.40" y2="399.26" stroke="#3cee3c" stroke-width="1.1" stroke-linecap="round"/>
<line x1="126.40" y1="399.26" x2="124.55" y2="400.45" stroke="#3cee3c" stroke-width="1.1" stroke-linecap="round"/>
<line x1="126.40" y1="399.26" x2="126.18" y2="401.45" stroke="#3cee3c" stroke-width="1.1" stroke-linecap="round"/>
<line x1="128.03" y1="405.93" x2="132.67" y2="399.41" stroke="#3cee3c" stroke-width="1.1" stroke-linecap="round"/>
<line x1="132.67" y1="399.41" x2="130.74" y2="400.47" stroke="#3cee3c" stroke-width="1.1" stroke-linecap="round"/>
<line x1="132.67" y1="399.41" x2="132.30" y2="401.58" stroke="#3cee3c" stroke-width="1.1" stroke-linecap="round"/>
<line x1="133.08" y1="404.90" x2="139.72" y2="400.44" stroke="#3cee3c" stroke-width="1.1" stroke-linecap="round"/>
<line x1="139.72" y1="400.44" x2="137.54" y2="400.75" stroke="#3cee3c" stroke-width="1.1" stroke-linecap="round"/>
<line x1="139.72" y1="400.44" x2="138.61" y2="402.34" stroke="#3cee3c" stroke-width="1.1" stroke-linecap="round"/>
<line x1="139.06" y1="404.78" x2="145.84" y2="400.55" stroke="#3cee3c" stroke-width="1.1" stroke-linecap="round"/>
<line x1="145.84" y1="400.55" x2="143.66" y2="400.79" stroke="#3cee3c" stroke-width="1.1" stroke-linecap="round"/>
<line x1="145.84" y1="400.55" x2="144.67" y2="402.41" stroke="#3cee3c" stroke-width="1.1" stroke-linecap="round"/>
<line x1="146.21" y1="404.24" x2="150.79" y2="401.09" stroke="#3cee3c" stroke-width="1.1" stroke-linecap="round"/>
<line x1="150.79" y1="401.09" x2="148.87" y2="401.39" stroke="#3cee3c" stroke-width="1.1" stroke-linecap="round"/>
<line x1="150.79" y1="401.09" x2="149.83" y2="402.78" stroke="#3cee3c" stroke-width="1.1" stroke-linecap="round"/>
<line x1="153.24" y1="403.64" x2="155.86" y2="401.69" stroke="#3cee3c" stroke-width="1.1" stroke-linecap="round"/>
<line x1="155.86" y1="401.69" x2="154.74" y2="401.91" stroke="#3cee3c" stroke-width="1.1" stroke-linecap="round"/>
<line x1="155.86" y1="401.69" x2="155.33" y2="402.71" stroke="#3cee3c" stroke-width="1.1" stroke-linecap="round"/>
<line x1="159.91" y1="403.21" x2="161.29" y2="402.13" stroke="#3cee3c" stroke-width="1.1" stroke-linecap="round"/>
<rect x="166.15" y="402.17" width="1" height="1" fill="#3cee3c" opacity="0.6"/>
<rect x="172.20" y="402.17" width="1" height="1" fill="#3cee3c" opacity="0.6"/>
<rect x="178.25" y="402.17" width="1" height="1" fill="#3cee3c" opacity="0.6"/>
<rect x="184.30" y="402.17" width="1" height="1" fill="#3cee3c" opacity="0.6"/>
<rect x="190.35" y="402.17" width="1" height="1" fill="#3cee3c" opacity="0.6"/>
<rect x="196.40" y="402.17" width="1" height="1" fill="#3cee3c" opacity="0.6"/>
<rect x="202.45" y="402.17" width="1" height="1" fill="#3cee3c" opacity="0.6"/>
<rect x="208.50" y="402.17" width="1" height="1" fill="#3cee3c" opacity="0.6"/>
<rect x="214.55" y="402.17" width="1" height="1" fill="#3cee3c" opacity="0.6"/>
<rect x="220.60" y="402.17" width="1" height="1" fill="#3cee3c" opacity="0.6"/>
<rect x="39.10" y="407.68" width="1" height="1" fill="#3cee3c" opacity="0.6"/>
<rect x="45.15" y="407.68" width="1" height="1" fill="#3cee3c" opacity="0.6"/>
<rect x="51.20" y="407.68" width="1" height="1" fill="#3cee3c" opacity="0.6"/>
<rect x="57.25" y="407.68" width="1" height="1" fill="#3cee3c" opacity="0.6"/>
<rect x="63.30" y="407.68" width="1" height="1" fill="#3cee3c" opacity="0.6"/>
<rect x="69.35" y="407.68" width="1" height="1" fill="#3cee3c" opacity="0.6"/>
<rect x="75.40" y="407.68" width="1" height="1" fill="#3cee3c" opacity="0.6"/>
<rect x="81.45" y="407.68" width="1" height="1" fill="#3cee3c" opacity="0.6"/>
<rect x="87.50" y="407.68" width="1" height="1" fill="#3cee3c" opacity="0.6"/>
<rect x="93.55" y="407.68" width="1" height="1" fill="#3cee3c" opacity="0.6"/>
<rect x="99.60" y="407.68" width="1" height="1" fill="#3cee3c" opacity="0.6"/>
<line x1="105.75" y1="408.83" x2="106.55" y2="407.54" stroke="#3cee3c" stroke-width="1.1" stroke-linecap="round"/>
<line x1="111.50" y1="409.45" x2="112.90" y2="406.91" stroke="#3cee3c" stroke-width="1.1" stroke-linecap="round"/>
<line x1="117.21" y1="410.46" x2="119.29" y2="405.91" stroke="#3cee3c" stroke-width="1.1" stroke-linecap="round"/>
<line x1="119.29" y1="405.91" x2="117.94" y2="407.03" stroke="#3cee3c" stroke-width="1.1" stroke-linecap="round"/>
<line x1="119.29" y1="405.91" x2="119.33" y2="407.66" stroke="#3cee3c" stroke-width="1.1" stroke-linecap="round"/>
<line x1="123.10" y1="412.00" x2="125.50" y2="404.37" stroke="#3cee3c" stroke-width="1.1" stroke-linecap="round"/>
<line x1="125.50" y1="404.37" x2="123.99" y2="405.97" stroke="#3cee3c" stroke-width="1.1" stroke-linecap="round"/>
<line x1="125.50" y1="404.37" x2="125.82" y2="406.54" stroke="#3cee3c" stroke-width="1.1" stroke-linecap="round"/>
<line x1="130.32" y1="412.18" x2="130.38" y2="404.18" stroke="#3cee3c" stroke-width="1.1" stroke-linecap="round"/>
<line x1="130.38" y1="404.18" x2="129.41" y2="406.16" stroke="#3cee3c" stroke-width="1.1" stroke-linecap="round"/>
<line x1="130.38" y1="404.18" x2="131.32" y2="406.17" stroke="#3cee3c" stroke-width="1.1" stroke-linecap="round"/>
<line x1="139.55" y1="410.65" x2="133.25" y2="405.72" stroke="#3cee3c" stroke-width="1.1" stroke-linecap="round"/>
<line x1="133.25" y1="405.72" x2="134.22" y2="407.69" stroke="#3cee3c" stroke-width="1.1" stroke-linecap="round"/>
<line x1="133.25" y1="405.72" x2="135.40" y2="406.19" stroke="#3cee3c" stroke-width="1.1" stroke-linecap="round"/>
<line x1="144.29" y1="409.97" x2="140.61" y2="406.39" stroke="#3cee3c" stroke-width="1.1" stroke-linecap="round"/>
<line x1="140.61" y1="406.39" x2="141.22" y2="408.08" stroke="#3cee3c" stroke-width="1.1" stroke-linecap="round"/>
<line x1="140.61" y1="406.39" x2="142.31" y2="406.96" stroke="#3cee3c" stroke-width="1.1" stroke-linecap="round"/>
<line x1="149.64" y1="409.49" x2="147.36" y2="406.88" stroke="#3cee3c" stroke-width="1.1" stroke-linecap="round"/>
<line x1="147.36" y1="406.88" x2="147.68" y2="408.05" stroke="#3cee3c" stroke-width="1.1" stroke-linecap="round"/>
<line x1="147.36" y1="406.88" x2="148.47" y2="407.35" stroke="#3cee3c" stroke-width="1.1" stroke-linecap="round"/>
<line x1="155.25" y1="409.03" x2="153.85" y2="407.33" stroke="#3cee3c" stroke-width="1.1" stroke-linecap="round"/>
<line x1="161.00" y1="408.67" x2="160.20" y2="407.70" stroke="#3cee3c" stroke-width="1.1" stroke-linecap="round"/>
<rect x="166.15" y="407.68" width="1" height="1" fill="#3cee3c" opacity="0.6"/>
<rect x="172.20" y="407.68" width="1" height="1" fill="#3cee3c" opacity="0.6"/>
<rect x="178.25" y="407.68" width="1" height="1" fill="#3cee3c" opacity="0.6"/>
<rect x="184.30" y="407.68" width="1" height="1" fill="#3cee3c" opacity="0.6"/>
<rect x="190.35" y="407.68" width="1" height="1" fill="#3cee3c" opacity="0.6"/>
<rect x="196.40" y="407.68" width="1" height="1" fill="#3cee3c" opacity="0.6"/>
<rect x="202.45" y="407.68" width="1" height="1" fill="#3cee3c" opacity="0.6"/>
<rect x="208.50" y="407.68" width="1" height="1" fill="#3cee3c" opacity="0.6"/>
<rect x="214.55" y="407.68" width="1" height="1" fill="#3cee3c" opacity="0.6"/>
<rect x="220.60" y="407.68" width="1" height="1" fill="#3cee3c" opacity="0.6"/>
<rect x="39.10" y="413.20" width="1" height="1" fill="#3cee3c" opacity="0.6"/>
<rect x="45.15" y="413.20" width="1" height="1" fill="#3cee3c" opacity="0.6"/>
<rect x="51.20" y="413.20" width="1" height="1" fill="#3cee3c" opacity="0.6"/>
<rect x="57.25" y="413.20" width="1" height="1" fill="#3cee3c" opacity="0.6"/>
<rect x="63.30" y="413.20" width="1" height="1" fill="#3cee3c" opacity="0.6"/>
<rect x="69.35" y="413.20" width="1" height="1" fill="#3cee3c" opacity="0.6"/>
<rect x="75.40" y="413.20" width="1" height="1" fill="#3cee3c" opacity="0.6"/>
<rect x="81.45" y="413.20" width="1" height="1" fill="#3cee3c" opacity="0.6"/>
<rect x="87.50" y="413.20" width="1" height="1" fill="#3cee3c" opacity="0.6"/>
<rect x="93.55" y="413.20" width="1" height="1" fill="#3cee3c" opacity="0.6"/>
<rect x="99.60" y="413.20" width="1" height="1" fill="#3cee3c" opacity="0.6"/>
<line x1="105.82" y1="414.35" x2="106.48" y2="413.05" stroke="#3cee3c" stroke-width="1.1" stroke-linecap="round"/>
<line x1="111.68" y1="414.95" x2="112.72" y2="412.45" stroke="#3cee3c" stroke-width="1.1" stroke-linecap="round"/>
<line x1="117.60" y1="415.86" x2="118.90" y2="411.54" stroke="#3cee3c" stroke-width="1.1" stroke-linecap="round"/>
<line x1="118.90" y1="411.54" x2="117.83" y2="412.70" stroke="#3cee3c" stroke-width="1.1" stroke-linecap="round"/>
<line x1="118.90" y1="411.54" x2="119.15" y2="413.10" stroke="#3cee3c" stroke-width="1.1" stroke-linecap="round"/>
<line x1="123.86" y1="417.02" x2="124.74" y2="410.38" stroke="#3cee3c" stroke-width="1.1" stroke-linecap="round"/>
<line x1="124.74" y1="410.38" x2="123.53" y2="412.22" stroke="#3cee3c" stroke-width="1.1" stroke-linecap="round"/>
<line x1="124.74" y1="410.38" x2="125.43" y2="412.47" stroke="#3cee3c" stroke-width="1.1" stroke-linecap="round"/>
<line x1="130.94" y1="417.66" x2="129.76" y2="409.74" stroke="#3cee3c" stroke-width="1.1" stroke-linecap="round"/>
<line x1="129.76" y1="409.74" x2="129.11" y2="411.84" stroke="#3cee3c" stroke-width="1.1" stroke-linecap="round"/>
<line x1="129.76" y1="409.74" x2="131.00" y2="411.56" stroke="#3cee3c" stroke-width="1.1" stroke-linecap="round"/>
<line x1="138.10" y1="417.01" x2="134.70" y2="410.39" stroke="#3cee3c" stroke-width="1.1" stroke-linecap="round"/>
<line x1="134.70" y1="410.39" x2="134.75" y2="412.59" stroke="#3cee3c" stroke-width="1.1" stroke-linecap="round"/>
<line x1="134.70" y1="410.39" x2="136.45" y2="411.71" stroke="#3cee3c" stroke-width="1.1" stroke-linecap="round"/>
<line x1="143.92" y1="415.88" x2="140.98" y2="411.52" stroke="#3cee3c" stroke-width="1.1" stroke-linecap="round"/>
<line x1="140.98" y1="411.52" x2="141.24" y2="413.34" stroke="#3cee3c" stroke-width="1.1" stroke-linecap="round"/>
<line x1="140.98" y1="411.52" x2="142.57" y2="412.45" stroke="#3cee3c" stroke-width="1.1" stroke-linecap="round"/>
<line x1="149.52" y1="415.14" x2="147.48" y2="412.26" stroke="#3cee3c" stroke-width="1.1" stroke-linecap="round"/>
<line x1="147.48" y1="412.26" x2="147.68" y2="413.48" stroke="#3cee3c" stroke-width="1.1" stroke-linecap="round"/>
<line x1="147.48" y1="412.26" x2="148.56" y2="412.86" stroke="#3cee3c" stroke-width="1.1" stroke-linecap="round"/>
<line x1="155.19" y1="414.60" x2="153.91" y2="412.80" stroke="#3cee3c" stroke-width="1.1" stroke-linecap="round"/>
<line x1="160.97" y1="414.21" x2="160.23" y2="413.19" stroke="#3cee3c" stroke-width="1.1" stroke-linecap="round"/>
<rect x="166.15" y="413.20" width="1" height="1" fill="#3cee3c" opacity="0.6"/>
<rect x="172.20" y="413.20" width="1" height="1" fill="#3cee3c" opacity="0.6"/>
<rect x="178.25" y="413.20" width="1" height="1" fill="#3cee3c" opacity="0.6"/>
<rect x="184.30" y="413.20" width="1" height="1" fill="#3cee3c" opacity="0.6"/>
<rect x="190.35" y="413.20" width="1" height="1" fill="#3cee3c" opacity="0.6"/>
<rect x="196.40" y="413.20" width="1" height="1" fill="#3cee3c" opacity="0.6"/>
<rect x="202.45" y="413.20" width="1" height="1" fill="#3cee3c" opacity="0.6"/>
<rect x="208.50" y="413.20" width="1" height="1" fill="#3cee3c" opacity="0.6"/>
<rect x="214.55" y="413.20" width="1" height="1" fill="#3cee3c" opacity="0.6"/>
<rect x="220.60" y="413.20" width="1" height="1" fill="#3cee3c" opacity="0.6"/>
<rect x="39.10" y="427.70" width="1" height="1" fill="#ff3cff" opacity="0.6"/>
<rect x="45.15" y="427.70" width="1" height="1" fill="#ff3cff" opacity="0.6"/>
<rect x="51.20" y="427.70" width="1" height="1" fill="#ff3cff" opacity="0.6"/>
<rect x="57.25" y="427.70" width="1" height="1" fill="#ff3cff" opacity="0.6"/>
<rect x="63.30" y="427.70" width="1" height="1" fill="#ff3cff" opacity="0.6"/>
<rect x="69.35" y="427.70" width="1" height="1" fill="#ff3cff" opacity="0.6"/>
<rect x="75.40" y="427.70" width="1" height="1" fill="#ff3cff" opacity="0.6"/>
<rect x="81.45" y="427.70" width="1" height="1" fill="#ff3cff" opacity="0.6"/>
<rect x="87.50" y="427.70" width="1" height="1" fill="#ff3cff" opacity="0.6"/>
<rect x="93.55" y="427.70" width="1" height="1" fill="#ff3cff" opacity="0.6"/>
<rect x="99.60" y="427.70" width="1" height="1" fill="#ff3cff" opacity="0.6"/>
<rect x="105.65" y="427.70" width="1" height="1" fill="#ff3cff" opacity="0.6"/>
<line x1="113.03" y1="427.60" x2="111.37" y2="428.80" stroke="#ff3cff" stroke-width="1.1" stroke-linecap="round"/>
<line x1="119.62" y1="427.22" x2="116.88" y2="429.18" stroke="#ff3cff" stroke-width="1.1" stroke-linecap="round"/>
<line x1="116.88" y1="429.18" x2="118.04" y2="428.98" stroke="#ff3cff" stroke-width="1.1" stroke-linecap="round"/>
<line x1="116.88" y1="429.18" x2="117.44" y2="428.15" stroke="#ff3cff" stroke-width="1.1" stroke-linecap="round"/>
<line x1="126.45" y1="426.73" x2="122.15" y2="429.67" stroke="#ff3cff" stroke-width="1.1" stroke-linecap="round"/>
<line x1="122.15" y1="429.67" x2="123.95" y2="429.40" stroke="#ff3cff" stroke-width="1.1" stroke-linecap="round"/>
<line x1="122.15" y1="429.67" x2="123.06" y2="428.09" stroke="#ff3cff" stroke-width="1.1" stroke-linecap="round"/>
<line x1="133.77" y1="426.54" x2="126.93" y2="429.86" stroke="#ff3cff" stroke-width="1.1" stroke-linecap="round"/>
<line x1="126.93" y1="429.86" x2="129.13" y2="429.86" stroke="#ff3cff" stroke-width="1.1" stroke-linecap="round"/>
<line x1="126.93" y1="429.86" x2="128.29" y2="428.14" stroke="#ff3cff" stroke-width="1.1" stroke-linecap="round"/>
<line x1="140.37" y1="427.75" x2="132.43" y2="428.65" stroke="#ff3cff" stroke-width="1.1" stroke-linecap="round"/>
<line x1="132.43" y1="428.65" x2="134.50" y2="429.38" stroke="#ff3cff" stroke-width="1.1" stroke-linecap="round"/>
<line x1="132.43" y1="428.65" x2="134.29" y2="427.47" stroke="#ff3cff" stroke-width="1.1" stroke-linecap="round"/>
<line x1="145.86" y1="428.72" x2="139.04" y2="427.68" stroke="#ff3cff" stroke-width="1.1" stroke-linecap="round"/>
<line x1="139.04" y1="427.68" x2="140.85" y2="428.93" stroke="#ff3cff" stroke-width="1.1" stroke-linecap="round"/>
<line x1="139.04" y1="427.68" x2="141.14" y2="427.03" stroke="#ff3cff" stroke-width="1.1" stroke-linecap="round"/>
<line x1="150.78" y1="428.91" x2="146.22" y2="427.49" stroke="#ff3cff" stroke-width="1.1" stroke-linecap="round"/>
<line x1="146.22" y1="427.49" x2="147.44" y2="428.63" stroke="#ff3cff" stroke-width="1.1" stroke-linecap="round"/>
<line x1="146.22" y1="427.49" x2="147.87" y2="427.24" stroke="#ff3cff" stroke-width="1.1" stroke-linecap="round"/>
<line x1="155.91" y1="428.78" x2="153.19" y2="427.62" stroke="#ff3cff" stroke-width="1.1" stroke-linecap="round"/>
<line x1="161.33" y1="428.57" x2="159.87" y2="427.83" stroke="#ff3cff" stroke-width="1.1" stroke-linecap="round"/>
<rect x="166.15" y="427.70" width="1" height="1" fill="#ff3cff" opacity="0.6"/>
<rect x="172.20" y="427.70" width="1" height="1" fill="#ff3cff" opacity="0.6"/>
<rect x="178.25" y="427.70" width="1" height="1" fill="#ff3cff" opacity="0.6"/>
<rect x="184.30" y="427.70" width="1" height="1" fill="#ff3cff" opacity="0.6"/>
<rect x="190.35" y="427.70" width="1" height="1" fill="#ff3cff" opacity="0.6"/>
<rect x="196.40" y="427.70" width="1" height="1" fill="#ff3cff" opacity="0.6"/>
<rect x="202.45" y="427.70" width="1" height="1" fill="#ff3cff" opacity="0.6"/>
<rect x="208.50" y="427.70" width="1" height="1" fill="#ff3cff" opacity="0.6"/>
<rect x="214.55" y="427.70" width="1" height="1" fill="#ff3cff" opacity="0.6"/>
<rect x="220.60" y="427.70" width="1" height="1" fill="#ff3cff" opacity="0.6"/>
<rect x="39.10" y="433.32" width="1" height="1" fill="#ff3cff" opacity="0.6"/>
<rect x="45.15" y="433.32" width="1" height="1" fill="#ff3cff" opacity="0.6"/>
<rect x="51.20" y="433.32" width="1" height="1" fill="#ff3cff" opacity="0.6"/>
<rect x="57.25" y="433.32" width="1" height="1" fill="#ff3cff" opacity="0.6"/>
<rect x="63.30" y="433.32" width="1" height="1" fill="#ff3cff" opacity="0.6"/>
<rect x="69.35" y="433.32" width="1" height="1" fill="#ff3cff" opacity="0.6"/>
<rect x="75.40" y="433.32" width="1" height="1" fill="#ff3cff" opacity="0.6"/>
<rect x="81.45" y="433.32" width="1" height="1" fill="#ff3cff" opacity="0.6"/>
<rect x="87.50" y="433.32" width="1" height="1" fill="#ff3cff" opacity="0.6"/>
<rect x="93.55" y="433.32" width="1" height="1" fill="#ff3cff" opacity="0.6"/>
<rect x="99.60" y="433.32" width="1" height="1" fill="#ff3cff" opacity="0.6"/>
<rect x="105.65" y="433.32" width="1" height="1" fill="#ff3cff" opacity="0.6"/>
<line x1="112.97" y1="433.16" x2="111.43" y2="434.47" stroke="#ff3cff" stroke-width="1.1" stroke-linecap="round"/>
<line x1="119.46" y1="432.70" x2="117.04" y2="434.93" stroke="#ff3cff" stroke-width="1.1" stroke-linecap="round"/>
<line x1="117.04" y1="434.93" x2="118.14" y2="434.60" stroke="#ff3cff" stroke-width="1.1" stroke-linecap="round"/>
<line x1="117.04" y1="434.93" x2="117.46" y2="433.86" stroke="#ff3cff" stroke-width="1.1" stroke-linecap="round"/>
<line x1="126.03" y1="431.92" x2="122.57" y2="435.71" stroke="#ff3cff" stroke-width="1.1" stroke-linecap="round"/>
<line x1="122.57" y1="435.71" x2="124.24" y2="435.04" stroke="#ff3cff" stroke-width="1.1" stroke-linecap="round"/>
<line x1="122.57" y1="435.71" x2="123.08" y2="433.99" stroke="#ff3cff" stroke-width="1.1" stroke-linecap="round"/>
<line x1="132.79" y1="430.64" x2="127.91" y2="436.99" stroke="#ff3cff" stroke-width="1.1" stroke-linecap="round"/>
<line x1="127.91" y1="436.99" x2="129.88" y2="436.00" stroke="#ff3cff" stroke-width="1.1" stroke-linecap="round"/>
<line x1="127.91" y1="436.99" x2="128.36" y2="434.84" stroke="#ff3cff" stroke-width="1.1" stroke-linecap="round"/>
<line x1="140.39" y1="434.12" x2="132.41" y2="433.52" stroke="#ff3cff" stroke-width="1.1" stroke-linecap="round"/>
<line x1="132.41" y1="433.52" x2="134.31" y2="434.62" stroke="#ff3cff" stroke-width="1.1" stroke-linecap="round"/>
<line x1="132.41" y1="433.52" x2="134.46" y2="432.71" stroke="#ff3cff" stroke-width="1.1" stroke-linecap="round"/>
<line x1="146.25" y1="435.07" x2="138.65" y2="432.56" stroke="#ff3cff" stroke-width="1.1" stroke-linecap="round"/>
<line x1="138.65" y1="432.56" x2="140.23" y2="434.09" stroke="#ff3cff" stroke-width="1.1" stroke-linecap="round"/>
<line x1="138.65" y1="432.56" x2="140.83" y2="432.27" stroke="#ff3cff" stroke-width="1.1" stroke-linecap="round"/>
<line x1="150.90" y1="434.93" x2="146.10" y2="432.70" stroke="#ff3cff" stroke-width="1.1" stroke-linecap="round"/>
<line x1="146.10" y1="432.70" x2="147.27" y2="434.13" stroke="#ff3cff" stroke-width="1.1" stroke-linecap="round"/>
<line x1="146.10" y1="432.70" x2="147.95" y2="432.67" stroke="#ff3cff" stroke-width="1.1" stroke-linecap="round"/>
<line x1="155.93" y1="434.59" x2="153.17" y2="433.04" stroke="#ff3cff" stroke-width="1.1" stroke-linecap="round"/>
<line x1="153.17" y1="433.04" x2="153.81" y2="433.95" stroke="#ff3cff" stroke-width="1.1" stroke-linecap="round"/>
<line x1="153.17" y1="433.04" x2="154.28" y2="433.11" stroke="#ff3cff" stroke-width="1.1" stroke-linecap="round"/>
<line x1="161.32" y1="434.27" x2="159.88" y2="433.36" stroke="#ff3cff" stroke-width="1.1" stroke-linecap="round"/>
<rect x="166.15" y="433.32" width="1" height="1" fill="#ff3cff" opacity="0.6"/>
<rect x="172.20" y="433.32" width="1" height="1" fill="#ff3cff" opacity="0.6"/>
<rect x="178.25" y="433.32" width="1" height="1" fill="#ff3cff" opacity="0.6"/>
<rect x="184.30" y="433.32" width="1" height="1" fill="#ff3cff" opacity="0.6"/>
<rect x="190.35" y="433.32" width="1" height="1" fill="#ff3cff" opacity="0.6"/>
<rect x="196.40" y="433.32" width="1" height="1" fill="#ff3cff" opacity="0.6"/>
<rect x="202.45" y="433.32" width="1" height="1" fill="#ff3cff" opacity="0.6"/>
<rect x="208.50" y="433.32" width="1" height="1" fill="#ff3cff" opacity="0.6"/>
<rect x="214.55" y="433.32" width="1" height="1" fill="#ff3cff" opacity="0.6"/>
<rect x="220.60" y="433.32" width="1" height="1" fill="#ff3cff" opacity="0.6"/>
<rect x="39.10" y="438.93" width="1" height="1" fill="#ff3cff" opacity="0.6"/>
<rect x="45.15" y="438.93" width="1" height="1" fill="#ff3cff" opacity="0.6"/>
<rect x="51.20" y="438.93" width="1" height="1" fill="#ff3cff" opacity="0.6"/>
<rect x="57.25" y="438.93" width="1" height="1" fill="#ff3cff" opacity="0.6"/>
<rect x="63.30" y="438.93" width="1" height="1" fill="#ff3cff" opacity="0.6"/>
<rect x="69.35" y="438.93" width="1" height="1" fill="#ff3cff" opacity="0.6"/>
<rect x="75.40" y="438.93" width="1" height="1" fill="#ff3cff" opacity="0.6"/>
<rect x="81.45" y="438.93" width="1" height="1" fill="#ff3cff" opacity="0.6"/>
<rect x="87.50" y="438.93" width="1" height="1" fill="#ff3cff" opacity="0.6"/>
<rect x="93.55" y="438.93" width="1" height="1" fill="#ff3cff" opacity="0.6"/>
<rect x="99.60" y="438.93" width="1" height="1" fill="#ff3cff" opacity="0.6"/>
<line x1="106.63" y1="440.05" x2="105.67" y2="438.82" stroke="#ff3cff" stroke-width="1.1" stroke-linecap="round"/>
<line x1="113.09" y1="440.64" x2="111.31" y2="438.22" stroke="#ff3cff" stroke-width="1.1" stroke-linecap="round"/>
<line x1="111.31" y1="438.22" x2="111.50" y2="439.26" stroke="#ff3cff" stroke-width="1.1" stroke-linecap="round"/>
<line x1="111.31" y1="438.22" x2="112.24" y2="438.71" stroke="#ff3cff" stroke-width="1.1" stroke-linecap="round"/>
<line x1="119.74" y1="441.61" x2="116.76" y2="437.26" stroke="#ff3cff" stroke-width="1.1" stroke-linecap="round"/>
<line x1="116.76" y1="437.26" x2="117.04" y2="439.08" stroke="#ff3cff" stroke-width="1.1" stroke-linecap="round"/>
<line x1="116.76" y1="437.26" x2="118.36" y2="438.18" stroke="#ff3cff" stroke-width="1.1" stroke-linecap="round"/>
<line x1="126.44" y1="442.81" x2="122.16" y2="436.05" stroke="#ff3cff" stroke-width="1.1" stroke-linecap="round"/>
<line x1="122.16" y1="436.05" x2="122.41" y2="438.24" stroke="#ff3cff" stroke-width="1.1" stroke-linecap="round"/>
<line x1="122.16" y1="436.05" x2="124.03" y2="437.22" stroke="#ff3cff" stroke-width="1.1" stroke-linecap="round"/>
<line x1="132.73" y1="442.65" x2="127.97" y2="436.22" stroke="#ff3cff" stroke-width="1.1" stroke-linecap="round"/>
<line x1="127.97" y1="436.22" x2="128.38" y2="438.38" stroke="#ff3cff" stroke-width="1.1" stroke-linecap="round"/>
<line x1="127.97" y1="436.22" x2="129.92" y2="437.24" stroke="#ff3cff" stroke-width="1.1" stroke-linecap="round"/>
<line x1="139.73" y1="441.66" x2="133.07" y2="437.21" stroke="#ff3cff" stroke-width="1.1" stroke-linecap="round"/>
<line x1="133.07" y1="437.21" x2="134.19" y2="439.11" stroke="#ff3cff" stroke-width="1.1" stroke-linecap="round"/>
<line x1="133.07" y1="437.21" x2="135.25" y2="437.52" stroke="#ff3cff" stroke-width="1.1" stroke-linecap="round"/>
<line x1="145.85" y1="441.54" x2="139.05" y2="437.33" stroke="#ff3cff" stroke-width="1.1" stroke-linecap="round"/>
<line x1="139.05" y1="437.33" x2="140.23" y2="439.18" stroke="#ff3cff" stroke-width="1.1" stroke-linecap="round"/>
<line x1="139.05" y1="437.33" x2="141.24" y2="437.56" stroke="#ff3cff" stroke-width="1.1" stroke-linecap="round"/>
<line x1="150.82" y1="441.02" x2="146.18" y2="437.84" stroke="#ff3cff" stroke-width="1.1" stroke-linecap="round"/>
<line x1="146.18" y1="437.84" x2="147.16" y2="439.55" stroke="#ff3cff" stroke-width="1.1" stroke-linecap="round"/>
<line x1="146.18" y1="437.84" x2="148.12" y2="438.14" stroke="#ff3cff" stroke-width="1.1" stroke-linecap="round"/>
<line x1="155.88" y1="440.42" x2="153.22" y2="438.45" stroke="#ff3cff" stroke-width="1.1" stroke-linecap="round"/>
<line x1="153.22" y1="438.45" x2="153.76" y2="439.47" stroke="#ff3cff" stroke-width="1.1" stroke-linecap="round"/>
<line x1="153.22" y1="438.45" x2="154.36" y2="438.66" stroke="#ff3cff" stroke-width="1.1" stroke-linecap="round"/>
<line x1="161.29" y1="439.98" x2="159.91" y2="438.89" stroke="#ff3cff" stroke-width="1.1" stroke-linecap="round"/>
<rect x="166.15" y="438.93" width="1" height="1" fill="#ff3cff" opacity="0.6"/>
<rect x="172.20" y="438.93" width="1" height="1" fill="#ff3cff" opacity="0.6"/>
<rect x="178.25" y="438.93" width="1" height="1" fill="#ff3cff" opacity="0.6"/>
<rect x="184.30" y="438.93" width="1" height="1" fill="#ff3cff" opacity="0.6"/>
<rect x="190.35" y="438.93" width="1" height="1" fill="#ff3cff" opacity="0.6"/>
<rect x="196.40" y="438.93" width="1" height="1" fill="#ff3cff" opacity="0.6"/>
<rect x="202.45" y="438.93" width="1" height="1" fill="#ff3cff" opacity="0.6"/>
<rect x="208.50" y="438.93" width="1" height="1" fill="#ff3cff" opacity="0.6"/>
<rect x="214.55" y="438.93" width="1" height="1" fill="#ff3cff" opacity="0.6"/>
<rect x="220.60" y="438.93" width="1" height="1" fill="#ff3cff" opacity="0.6"/>
<rect x="39.10" y="444.55" width="1" height="1" fill="#ff3cff" opacity="0.6"/>
<rect x="45.15" y="444.55" width="1" height="1" fill="#ff3cff" opacity="0.6"/>
<rect x="51.20" y="444.55" width="1" height="1" fill="#ff3cff" opacity="0.6"/>
<rect x="57.25" y="444.55" width="1" height="1" fill="#ff3cff" opacity="0.6"/>
<rect x="63.30" y="444.55" width="1" height="1" fill="#ff3cff" opacity="0.6"/>
<rect x="69.35" y="444.55" width="1" height="1" fill="#ff3cff" opacity="0.6"/>
<rect x="75.40" y="444.55" width="1" height="1" fill="#ff3cff" opacity="0.6"/>
<rect x="81.45" y="444.55" width="1" height="1" fill="#ff3cff" opacity="0.6"/>
<rect x="87.50" y="444.55" width="1" height="1" fill="#ff3cff" opacity="0.6"/>
<rect x="93.55" y="444.55" width="1" height="1" fill="#ff3cff" opacity="0.6"/>
<rect x="99.60" y="444.55" width="1" height="1" fill="#ff3cff" opacity="0.6"/>
<line x1="106.70" y1="445.61" x2="105.60" y2="444.49" stroke="#ff3cff" stroke-width="1.1" stroke-linecap="round"/>
<line x1="113.27" y1="446.14" x2="111.13" y2="443.96" stroke="#ff3cff" stroke-width="1.1" stroke-linecap="round"/>
<line x1="111.13" y1="443.96" x2="111.47" y2="444.97" stroke="#ff3cff" stroke-width="1.1" stroke-linecap="round"/>
<line x1="111.13" y1="443.96" x2="112.14" y2="444.32" stroke="#ff3cff" stroke-width="1.1" stroke-linecap="round"/>
<line x1="120.13" y1="446.96" x2="116.37" y2="443.14" stroke="#ff3cff" stroke-width="1.1" stroke-linecap="round"/>
<line x1="116.37" y1="443.14" x2="116.97" y2="444.92" stroke="#ff3cff" stroke-width="1.1" stroke-linecap="round"/>
<line x1="116.37" y1="443.14" x2="118.14" y2="443.77" stroke="#ff3cff" stroke-width="1.1" stroke-linecap="round"/>
<line x1="127.12" y1="447.88" x2="121.48" y2="442.22" stroke="#ff3cff" stroke-width="1.1" stroke-linecap="round"/>
<line x1="121.48" y1="442.22" x2="122.20" y2="444.29" stroke="#ff3cff" stroke-width="1.1" stroke-linecap="round"/>
<line x1="121.48" y1="442.22" x2="123.55" y2="442.94" stroke="#ff3cff" stroke-width="1.1" stroke-linecap="round"/>
<line x1="133.22" y1="447.83" x2="127.48" y2="442.27" stroke="#ff3cff" stroke-width="1.1" stroke-linecap="round"/>
<line x1="127.48" y1="442.27" x2="128.23" y2="444.33" stroke="#ff3cff" stroke-width="1.1" stroke-linecap="round"/>
<line x1="127.48" y1="442.27" x2="129.57" y2="442.96" stroke="#ff3cff" stroke-width="1.1" stroke-linecap="round"/>
<line x1="139.31" y1="447.80" x2="133.49" y2="442.30" stroke="#ff3cff" stroke-width="1.1" stroke-linecap="round"/>
<line x1="133.49" y1="442.30" x2="134.28" y2="444.36" stroke="#ff3cff" stroke-width="1.1" stroke-linecap="round"/>
<line x1="133.49" y1="442.30" x2="135.59" y2="442.97" stroke="#ff3cff" stroke-width="1.1" stroke-linecap="round"/>
<line x1="145.33" y1="447.82" x2="139.57" y2="442.28" stroke="#ff3cff" stroke-width="1.1" stroke-linecap="round"/>
<line x1="139.57" y1="442.28" x2="140.33" y2="444.34" stroke="#ff3cff" stroke-width="1.1" stroke-linecap="round"/>
<line x1="139.57" y1="442.28" x2="141.66" y2="442.96" stroke="#ff3cff" stroke-width="1.1" stroke-linecap="round"/>
<line x1="150.56" y1="447.07" x2="146.44" y2="443.03" stroke="#ff3cff" stroke-width="1.1" stroke-linecap="round"/>
<line x1="146.44" y1="443.03" x2="147.12" y2="444.93" stroke="#ff3cff" stroke-width="1.1" stroke-linecap="round"/>
<line x1="146.44" y1="443.03" x2="148.35" y2="443.68" stroke="#ff3cff" stroke-width="1.1" stroke-linecap="round"/>
<line x1="155.75" y1="446.23" x2="153.35" y2="443.87" stroke="#ff3cff" stroke-width="1.1" stroke-linecap="round"/>
<line x1="153.35" y1="443.87" x2="153.75" y2="444.98" stroke="#ff3cff" stroke-width="1.1" stroke-linecap="round"/>
<line x1="153.35" y1="443.87" x2="154.47" y2="444.25" stroke="#ff3cff" stroke-width="1.1" stroke-linecap="round"/>
<line x1="161.23" y1="445.68" x2="159.97" y2="444.42" stroke="#ff3cff" stroke-width="1.1" stroke-linecap="round"/>
<rect x="166.15" y="444.55" width="1" height="1" fill="#ff3cff" opacity="0.6"/>
<rect x="172.20" y="444.55" width="1" height="1" fill="#ff3cff" opacity="0.6"/>
<rect x="178.25" y="444.55" width="1" height="1" fill="#ff3cff" opacity="0.6"/>
<rect x="184.30" y="444.55" width="1" height="1" fill="#ff3cff" opacity="0.6"/>
<rect x="190.35" y="444.55" width="1" height="1" fill="#ff3cff" opacity="0.6"/>
<rect x="196.40" y="444.55" width="1" height="1" fill="#ff3cff" opacity="0.6"/>
<rect x="202.45" y="444.55" width="1" height="1" fill="#ff3cff" opacity="0.6"/>
<rect x="208.50" y="444.55" width="1" height="1" fill="#ff3cff" opacity="0.6"/>
<rect x="214.55" y="444.55" width="1" height="1" fill="#ff3cff" opacity="0.6"/>
<rect x="220.60" y="444.55" width="1" height="1" fill="#ff3cff" opacity="0.6"/>
<rect x="39.10" y="450.17" width="1" height="1" fill="#ff3cff" opacity="0.6"/>
<rect x="45.15" y="450.17" width="1" height="1" fill="#ff3cff" opacity="0.6"/>
<rect x="51.20" y="450.17" width="1" height="1" fill="#ff3cff" opacity="0.6"/>
<rect x="57.25" y="450.17" width="1" height="1" fill="#ff3cff" opacity="0.6"/>
<rect x="63.30" y="450.17" width="1" height="1" fill="#ff3cff" opacity="0.6"/>
<rect x="69.35" y="450.17" width="1" height="1" fill="#ff3cff" opacity="0.6"/>
<rect x="75.40" y="450.17" width="1" height="1" fill="#ff3cff" opacity="0.6"/>
<rect x="81.45" y="450.17" width="1" height="1" fill="#ff3cff" opacity="0.6"/>
<rect x="87.50" y="450.17" width="1" height="1" fill="#ff3cff" opacity="0.6"/>
<rect x="93.55" y="450.17" width="1" height="1" fill="#ff3cff" opacity="0.6"/>
<rect x="99.60" y="450.17" width="1" height="1" fill="#ff3cff" opacity="0.6"/>
<line x1="106.76" y1="451.16" x2="105.54" y2="450.17" stroke="#ff3cff" stroke-width="1.1" stroke-linecap="round"/>
<line x1="113.39" y1="451.58" x2="111.01" y2="449.75" stroke="#ff3cff" stroke-width="1.1" stroke-linecap="round"/>
<line x1="111.01" y1="449.75" x2="111.48" y2="450.69" stroke="#ff3cff" stroke-width="1.1" stroke-linecap="round"/>
<line x1="111.01" y1="449.75" x2="112.04" y2="449.96" stroke="#ff3cff" stroke-width="1.1" stroke-linecap="round"/>
<line x1="120.39" y1="452.19" x2="116.11" y2="449.14" stroke="#ff3cff" stroke-width="1.1" stroke-linecap="round"/>
<line x1="116.11" y1="449.14" x2="116.99" y2="450.75" stroke="#ff3cff" stroke-width="1.1" stroke-linecap="round"/>
<line x1="116.11" y1="449.14" x2="117.92" y2="449.45" stroke="#ff3cff" stroke-width="1.1" stroke-linecap="round"/>
<line x1="127.64" y1="452.86" x2="120.96" y2="448.47" stroke="#ff3cff" stroke-width="1.1" stroke-linecap="round"/>
<line x1="120.96" y1="448.47" x2="122.09" y2="450.36" stroke="#ff3cff" stroke-width="1.1" stroke-linecap="round"/>
<line x1="120.96" y1="448.47" x2="123.14" y2="448.76" stroke="#ff3cff" stroke-width="1.1" stroke-linecap="round"/>
<line x1="133.63" y1="452.96" x2="127.07" y2="448.37" stroke="#ff3cff" stroke-width="1.1" stroke-linecap="round"/>
<line x1="127.07" y1="448.37" x2="128.15" y2="450.29" stroke="#ff3cff" stroke-width="1.1" stroke-linecap="round"/>
<line x1="127.07" y1="448.37" x2="129.25" y2="448.72" stroke="#ff3cff" stroke-width="1.1" stroke-linecap="round"/>
<line x1="138.90" y1="453.79" x2="133.90" y2="447.54" stroke="#ff3cff" stroke-width="1.1" stroke-linecap="round"/>
<line x1="133.90" y1="447.54" x2="134.39" y2="449.69" stroke="#ff3cff" stroke-width="1.1" stroke-linecap="round"/>
<line x1="133.90" y1="447.54" x2="135.89" y2="448.49" stroke="#ff3cff" stroke-width="1.1" stroke-linecap="round"/>
<line x1="144.68" y1="453.99" x2="140.22" y2="447.34" stroke="#ff3cff" stroke-width="1.1" stroke-linecap="round"/>
<line x1="140.22" y1="447.34" x2="140.53" y2="449.52" stroke="#ff3cff" stroke-width="1.1" stroke-linecap="round"/>
<line x1="140.22" y1="447.34" x2="142.12" y2="448.46" stroke="#ff3cff" stroke-width="1.1" stroke-linecap="round"/>
<line x1="150.15" y1="452.99" x2="146.85" y2="448.34" stroke="#ff3cff" stroke-width="1.1" stroke-linecap="round"/>
<line x1="146.85" y1="448.34" x2="147.18" y2="450.31" stroke="#ff3cff" stroke-width="1.1" stroke-linecap="round"/>
<line x1="146.85" y1="448.34" x2="148.60" y2="449.31" stroke="#ff3cff" stroke-width="1.1" stroke-linecap="round"/>
<line x1="155.56" y1="451.99" x2="153.54" y2="449.34" stroke="#ff3cff" stroke-width="1.1" stroke-linecap="round"/>
<line x1="153.54" y1="449.34" x2="153.77" y2="450.48" stroke="#ff3cff" stroke-width="1.1" stroke-linecap="round"/>
<line x1="153.54" y1="449.34" x2="154.58" y2="449.87" stroke="#ff3cff" stroke-width="1.1" stroke-linecap="round"/>
<line x1="161.15" y1="451.36" x2="160.05" y2="449.98" stroke="#ff3cff" stroke-width="1.1" stroke-linecap="round"/>
<rect x="166.15" y="450.17" width="1" height="1" fill="#ff3cff" opacity="0.6"/>
<rect x="172.20" y="450.17" width="1" height="1" fill="#ff3cff" opacity="0.6"/>
<rect x="178.25" y="450.17" width="1" height="1" fill="#ff3cff" opacity="0.6"/>
<rect x="184.30" y="450.17" width="1" height="1" fill="#ff3cff" opacity="0.6"/>
<rect x="190.35" y="450.17" width="1" height="1" fill="#ff3cff" opacity="0.6"/>
<rect x="196.40" y="450.17" width="1" height="1" fill="#ff3cff" opacity="0.6"/>
<rect x="202.45" y="450.17" width="1" height="1" fill="#ff3cff" opacity="0.6"/>
<rect x="208.50" y="450.17" width="1" height="1" fill="#ff3cff" opacity="0.6"/>
<rect x="214.55" y="450.17" width="1" height="1" fill="#ff3cff" opacity="0.6"/>
<rect x="220.60" y="450.17" width="1" height="1" fill="#ff3cff" opacity="0.6"/>
<rect x="39.10" y="455.78" width="1" height="1" fill="#ff3cff" opacity="0.6"/>
<rect x="45.15" y="455.78" width="1" height="1" fill="#ff3cff" opacity="0.6"/>
<rect x="51.20" y="455.78" width="1" height="1" fill="#ff3cff" opacity="0.6"/>
<rect x="57.25" y="455.78" width="1" height="1" fill="#ff3cff" opacity="0.6"/>
<rect x="63.30" y="455.78" width="1" height="1" fill="#ff3cff" opacity="0.6"/>
<rect x="69.35" y="455.78" width="1" height="1" fill="#ff3cff" opacity="0.6"/>
<rect x="75.40" y="455.78" width="1" height="1" fill="#ff3cff" opacity="0.6"/>
<rect x="81.45" y="455.78" width="1" height="1" fill="#ff3cff" opacity="0.6"/>
<rect x="87.50" y="455.78" width="1" height="1" fill="#ff3cff" opacity="0.6"/>
<rect x="93.55" y="455.78" width="1" height="1" fill="#ff3cff" opacity="0.6"/>
<rect x="99.60" y="455.78" width="1" height="1" fill="#ff3cff" opacity="0.6"/>
<line x1="106.79" y1="456.70" x2="105.51" y2="455.87" stroke="#ff3cff" stroke-width="1.1" stroke-linecap="round"/>
<line x1="113.45" y1="457.01" x2="110.95" y2="455.56" stroke="#ff3cff" stroke-width="1.1" stroke-linecap="round"/>
<line x1="120.48" y1="457.37" x2="116.02" y2="455.19" stroke="#ff3cff" stroke-width="1.1" stroke-linecap="round"/>
<line x1="116.02" y1="455.19" x2="117.09" y2="456.56" stroke="#ff3cff" stroke-width="1.1" stroke-linecap="round"/>
<line x1="116.02" y1="455.19" x2="117.76" y2="455.20" stroke="#ff3cff" stroke-width="1.1" stroke-linecap="round"/>
<line x1="128.01" y1="457.63" x2="120.59" y2="454.93" stroke="#ff3cff" stroke-width="1.1" stroke-linecap="round"/>
<line x1="120.59" y1="454.93" x2="122.13" y2="456.51" stroke="#ff3cff" stroke-width="1.1" stroke-linecap="round"/>
<line x1="120.59" y1="454.93" x2="122.78" y2="454.71" stroke="#ff3cff" stroke-width="1.1" stroke-linecap="round"/>
<line x1="134.31" y1="456.86" x2="126.39" y2="455.70" stroke="#ff3cff" stroke-width="1.1" stroke-linecap="round"/>
<line x1="126.39" y1="455.70" x2="128.21" y2="456.94" stroke="#ff3cff" stroke-width="1.1" stroke-linecap="round"/>
<line x1="126.39" y1="455.70" x2="128.49" y2="455.04" stroke="#ff3cff" stroke-width="1.1" stroke-linecap="round"/>
<line x1="138.48" y1="452.87" x2="134.32" y2="459.70" stroke="#ff3cff" stroke-width="1.1" stroke-linecap="round"/>
<line x1="134.32" y1="459.70" x2="136.17" y2="458.51" stroke="#ff3cff" stroke-width="1.1" stroke-linecap="round"/>
<line x1="134.32" y1="459.70" x2="134.53" y2="457.51" stroke="#ff3cff" stroke-width="1.1" stroke-linecap="round"/>
<line x1="144.18" y1="454.26" x2="140.72" y2="458.31" stroke="#ff3cff" stroke-width="1.1" stroke-linecap="round"/>
<line x1="140.72" y1="458.31" x2="142.43" y2="457.56" stroke="#ff3cff" stroke-width="1.1" stroke-linecap="round"/>
<line x1="140.72" y1="458.31" x2="141.20" y2="456.51" stroke="#ff3cff" stroke-width="1.1" stroke-linecap="round"/>
<line x1="149.78" y1="455.08" x2="147.22" y2="457.49" stroke="#ff3cff" stroke-width="1.1" stroke-linecap="round"/>
<line x1="147.22" y1="457.49" x2="148.40" y2="457.12" stroke="#ff3cff" stroke-width="1.1" stroke-linecap="round"/>
<line x1="147.22" y1="457.49" x2="147.66" y2="456.34" stroke="#ff3cff" stroke-width="1.1" stroke-linecap="round"/>
<line x1="155.39" y1="455.55" x2="153.71" y2="457.01" stroke="#ff3cff" stroke-width="1.1" stroke-linecap="round"/>
<line x1="161.08" y1="455.87" x2="160.12" y2="456.69" stroke="#ff3cff" stroke-width="1.1" stroke-linecap="round"/>
<rect x="166.15" y="455.78" width="1" height="1" fill="#ff3cff" opacity="0.6"/>
<rect x="172.20" y="455.78" width="1" height="1" fill="#ff3cff" opacity="0.6"/>
<rect x="178.25" y="455.78" width="1" height="1" fill="#ff3cff" opacity="0.6"/>
<rect x="184.30" y="455.78" width="1" height="1" fill="#ff3cff" opacity="0.6"/>
<rect x="190.35" y="455.78" width="1" height="1" fill="#ff3cff" opacity="0.6"/>
<rect x="196.40" y="455.78" width="1" height="1" fill="#ff3cff" opacity="0.6"/>
<rect x="202.45" y="455.78" width="1" height="1" fill="#ff3cff" opacity="0.6"/>
<rect x="208.50" y="455.78" width="1" height="1" fill="#ff3cff" opacity="0.6"/>
<rect x="214.55" y="455.78" width="1" height="1" fill="#ff3cff" opacity="0.6"/>
<rect x="220.60" y="455.78" width="1" height="1" fill="#ff3cff" opacity="0.6"/>
<rect x="39.10" y="461.40" width="1" height="1" fill="#ff3cff" opacity="0.6"/>
<rect x="45.15" y="461.40" width="1" height="1" fill="#ff3cff" opacity="0.6"/>
<rect x="51.20" y="461.40" width="1" height="1" fill="#ff3cff" opacity="0.6"/>
<rect x="57.25" y="461.40" width="1" height="1" fill="#ff3cff" opacity="0.6"/>
<rect x="63.30" y="461.40" width="1" height="1" fill="#ff3cff" opacity="0.6"/>
<rect x="69.35" y="461.40" width="1" height="1" fill="#ff3cff" opacity="0.6"/>
<rect x="75.40" y="461.40" width="1" height="1" fill="#ff3cff" opacity="0.6"/>
<rect x="81.45" y="461.40" width="1" height="1" fill="#ff3cff" opacity="0.6"/>
<rect x="87.50" y="461.40" width="1" height="1" fill="#ff3cff" opacity="0.6"/>
<rect x="93.55" y="461.40" width="1" height="1" fill="#ff3cff" opacity="0.6"/>
<rect x="99.60" y="461.40" width="1" height="1" fill="#ff3cff" opacity="0.6"/>
<line x1="106.79" y1="462.24" x2="105.51" y2="461.56" stroke="#ff3cff" stroke-width="1.1" stroke-linecap="round"/>
<line x1="113.44" y1="462.44" x2="110.96" y2="461.36" stroke="#ff3cff" stroke-width="1.1" stroke-linecap="round"/>
<line x1="120.39" y1="462.61" x2="116.11" y2="461.19" stroke="#ff3cff" stroke-width="1.1" stroke-linecap="round"/>
<line x1="116.11" y1="461.19" x2="117.24" y2="462.29" stroke="#ff3cff" stroke-width="1.1" stroke-linecap="round"/>
<line x1="116.11" y1="461.19" x2="117.67" y2="460.99" stroke="#ff3cff" stroke-width="1.1" stroke-linecap="round"/>
<line x1="127.61" y1="462.47" x2="120.99" y2="461.33" stroke="#ff3cff" stroke-width="1.1" stroke-linecap="round"/>
<line x1="120.99" y1="461.33" x2="122.78" y2="462.61" stroke="#ff3cff" stroke-width="1.1" stroke-linecap="round"/>
<line x1="120.99" y1="461.33" x2="123.10" y2="460.72" stroke="#ff3cff" stroke-width="1.1" stroke-linecap="round"/>
<line x1="134.33" y1="461.53" x2="126.37" y2="462.27" stroke="#ff3cff" stroke-width="1.1" stroke-linecap="round"/>
<line x1="126.37" y1="462.27" x2="128.43" y2="463.04" stroke="#ff3cff" stroke-width="1.1" stroke-linecap="round"/>
<line x1="126.37" y1="462.27" x2="128.25" y2="461.13" stroke="#ff3cff" stroke-width="1.1" stroke-linecap="round"/>
<line x1="139.98" y1="460.11" x2="132.82" y2="463.69" stroke="#ff3cff" stroke-width="1.1" stroke-linecap="round"/>
<line x1="132.82" y1="463.69" x2="135.02" y2="463.66" stroke="#ff3cff" stroke-width="1.1" stroke-linecap="round"/>
<line x1="132.82" y1="463.69" x2="134.17" y2="461.95" stroke="#ff3cff" stroke-width="1.1" stroke-linecap="round"/>
<line x1="144.69" y1="460.31" x2="140.21" y2="463.49" stroke="#ff3cff" stroke-width="1.1" stroke-linecap="round"/>
<line x1="140.21" y1="463.49" x2="142.11" y2="463.17" stroke="#ff3cff" stroke-width="1.1" stroke-linecap="round"/>
<line x1="140.21" y1="463.49" x2="141.14" y2="461.81" stroke="#ff3cff" stroke-width="1.1" stroke-linecap="round"/>
<line x1="149.96" y1="460.82" x2="147.04" y2="462.98" stroke="#ff3cff" stroke-width="1.1" stroke-linecap="round"/>
<line x1="147.04" y1="462.98" x2="148.29" y2="462.74" stroke="#ff3cff" stroke-width="1.1" stroke-linecap="round"/>
<line x1="147.04" y1="462.98" x2="147.63" y2="461.85" stroke="#ff3cff" stroke-width="1.1" stroke-linecap="round"/>
<line x1="155.45" y1="461.23" x2="153.65" y2="462.57" stroke="#ff3cff" stroke-width="1.1" stroke-linecap="round"/>
<line x1="161.11" y1="461.52" x2="160.09" y2="462.28" stroke="#ff3cff" stroke-width="1.1" stroke-linecap="round"/>
<rect x="166.15" y="461.40" width="1" height="1" fill="#ff3cff" opacity="0.6"/>
<rect x="172.20" y="461.40" width="1" height="1" fill="#ff3cff" opacity="0.6"/>
<rect x="178.25" y="461.40" width="1" height="1" fill="#ff3cff" opacity="0.6"/>
<rect x="184.30" y="461.40" width="1" height="1" fill="#ff3cff" opacity="0.6"/>
<rect x="190.35" y="461.40" width="1" height="1" fill="#ff3cff" opacity="0.6"/>
<rect x="196.40" y="461.40" width="1" height="1" fill="#ff3cff" opacity="0.6"/>
<rect x="202.45" y="461.40" width="1" height="1" fill="#ff3cff" opacity="0.6"/>
<rect x="208.50" y="461.40" width="1" height="1" fill="#ff3cff" opacity="0.6"/>
<rect x="214.55" y="461.40" width="1" height="1" fill="#ff3cff" opacity="0.6"/>
<rect x="220.60" y="461.40" width="1" height="1" fill="#ff3cff" opacity="0.6"/>
<line x1="37.6" y1="397.50" x2="229" y2="397.50" stroke="#333" stroke-width="0.9" stroke-dasharray="3.2 2.6"/>
<rect x="36.6" y="378.2" width="192.4" height="37.900000000000034" fill="none" stroke="#262626" stroke-width="1.4"/>
<line x1="37.6" y1="445.50" x2="229" y2="445.50" stroke="#333" stroke-width="0.9" stroke-dasharray="3.2 2.6"/>
<rect x="36.6" y="425.8" width="192.4" height="38.5" fill="none" stroke="#262626" stroke-width="1.4"/>
<line x1="36.60" y1="387.30" x2="133.00" y2="387.30" stroke="#9c9c9c" stroke-width="1.4" />
<line x1="133.00" y1="406.60" x2="232.00" y2="406.60" stroke="#9c9c9c" stroke-width="1.4" />
<line x1="36.60" y1="435.50" x2="133.00" y2="435.50" stroke="#9c9c9c" stroke-width="1.4" />
<line x1="134.00" y1="455.40" x2="229.00" y2="455.40" stroke="#9c9c9c" stroke-width="1.4" />
<text x="34.00" y="393.00" font-size="10.5" text-anchor="end" fill="#999" stroke="none" font-weight="normal" ><tspan font-style="italic">h</tspan>/4</text>
<text x="232.00" y="410.00" font-size="10.5" text-anchor="start" fill="#999" stroke="none" font-weight="normal" >-<tspan font-style="italic">h</tspan>/4</text>
<text x="171.60" y="391.50" font-size="10.5" text-anchor="start" fill="#222" stroke="#222" font-weight="normal" textLength="48.4" lengthAdjust="spacingAndGlyphs" >H @1GHz</text>
<text x="171.60" y="439.90" font-size="10.5" text-anchor="start" fill="#222" stroke="#222" font-weight="normal" textLength="48.4" lengthAdjust="spacingAndGlyphs" >E @1GHz</text>
<text x="32.50" y="382.00" font-size="10.5" text-anchor="end" fill="#222" stroke="#222" font-weight="normal" >10</text>
<text x="32.50" y="419.60" font-size="10.5" text-anchor="end" fill="#222" stroke="#222" font-weight="normal" >-10</text>
<text x="32.50" y="430.00" font-size="10.5" text-anchor="end" fill="#222" stroke="#222" font-weight="normal" >10</text>
<text x="32.50" y="468.00" font-size="10.5" text-anchor="end" fill="#222" stroke="#222" font-weight="normal" >-10</text>
<text x="36.60" y="478.50" font-size="10.5" text-anchor="middle" fill="#222" stroke="#222" font-weight="normal" >50</text>
<text x="229.00" y="478.50" font-size="10.5" text-anchor="middle" fill="#222" stroke="#222" font-weight="normal" >-50</text>
<text x="133.00" y="478.40" font-size="10.5" text-anchor="middle" fill="#222" stroke="#222" font-weight="normal" >Y (mm)</text>
<text transform="translate(13,420) rotate(-90)" font-size="10.65" text-anchor="middle" fill="#222" stroke="#222" font-family="Liberation Sans, sans-serif">Z (mm)</text>
<text x="133.00" y="371.40" font-size="12" text-anchor="middle" fill="#222" stroke="#222" font-weight="normal" >Pseudospin-up mode</text>
<text x="0.00" y="368.40" font-size="12.3" text-anchor="start" fill="#231f20" stroke="#231f20" font-weight="bold" textLength="16.4" lengthAdjust="spacingAndGlyphs" >(c)</text>
<rect x="270.2" y="378.2" width="172.8" height="86.19999999999999" fill="#000"/>
<clipPath id="cf"><rect x="270.2" y="378.2" width="172.8" height="86.19999999999999"/></clipPath>
<filter id="heat" x="0" y="0" width="1" height="1" filterUnits="objectBoundingBox" color-interpolation-filters="sRGB"><feGaussianBlur stdDeviation="1.9"/><feComponentTransfer><feFuncR type="table" tableValues="0.000 0.092 0.183 0.275 0.367 0.458 0.550 0.642 0.733 0.825 0.917 1.000 1.000 1.000 1.000 1.000 1.000 1.000 1.000 1.000 1.000 1.000 1.000 1.000 1.000 1.000 1.000 1.000 1.000 1.000 1.000 1.000 1.000"/><feFuncG type="table" tableValues="0.000 0.000 0.000 0.000 0.000 0.000 0.000 0.000 0.000 0.000 0.000 0.008 0.100 0.192 0.283 0.375 0.467 0.558 0.650 0.742 0.833 0.925 1.000 1.000 1.000 1.000 1.000 1.000 1.000 1.000 1.000 1.000 1.000"/><feFuncB type="table" tableValues="0.000 0.000 0.000 0.000 0.000 0.000 0.000 0.000 0.000 0.000 0.000 0.000 0.000 0.000 0.000 0.000 0.000 0.000 0.000 0.000 0.000 0.000 0.025 0.163 0.300 0.438 0.575 0.713 0.850 0.988 1.000 1.000 1.000"/><feFuncA type="linear" slope="0" intercept="1"/></feComponentTransfer></filter>
<g clip-path="url(#cf)"><g filter="url(#heat)">
<rect x="260.2" y="368.2" width="192.8" height="106.19999999999999" fill="#000"/>
<path d="M230.64,433.20 L230.64,412.20 A2.6,2.6 0 0 1 233.24,409.60 L236.72,409.60 A2.6,2.6 0 0 1 239.32,412.20 L239.32,430.60 A2.6,2.6 0 0 0 241.92,433.20 L245.40,433.20 A2.6,2.6 0 0 0 248.00,430.60 L248.00,412.20 A2.6,2.6 0 0 1 250.60,409.60 L254.08,409.60 A2.6,2.6 0 0 1 256.68,412.20 L256.68,430.60 A2.6,2.6 0 0 0 259.28,433.20 L262.76,433.20 A2.6,2.6 0 0 0 265.36,430.60 L265.36,412.20 A2.6,2.6 0 0 1 267.96,409.60 L271.44,409.60 A2.6,2.6 0 0 1 274.04,412.20 L274.04,430.60 A2.6,2.6 0 0 0 276.64,433.20 L280.12,433.20 A2.6,2.6 0 0 0 282.72,430.60 L282.72,412.20 A2.6,2.6 0 0 1 285.32,409.60 L288.80,409.60 A2.6,2.6 0 0 1 291.40,412.20 L291.40,430.60 A2.6,2.6 0 0 0 294.00,433.20 L297.48,433.20 A2.6,2.6 0 0 0 300.08,430.60 L300.08,412.20 A2.6,2.6 0 0 1 302.68,409.60 L306.16,409.60 A2.6,2.6 0 0 1 308.76,412.20 L308.76,430.60 A2.6,2.6 0 0 0 311.36,433.20 L314.84,433.20 A2.6,2.6 0 0 0 317.44,430.60 L317.44,412.20 A2.6,2.6 0 0 1 320.04,409.60 L323.52,409.60 A2.6,2.6 0 0 1 326.12,412.20 L326.12,430.60 A2.6,2.6 0 0 0 328.72,433.20 L332.20,433.20 A2.6,2.6 0 0 0 334.80,430.60 L334.80,412.20 A2.6,2.6 0 0 1 337.40,409.60 L340.88,409.60 A2.6,2.6 0 0 1 343.48,412.20 L343.48,430.60 A2.6,2.6 0 0 0 346.08,433.20 L349.56,433.20 A2.6,2.6 0 0 0 352.16,430.60 L352.16,412.20 A2.6,2.6 0 0 1 354.76,409.60 L358.24,409.60 A2.6,2.6 0 0 1 360.84,412.20 L360.84,430.60 A2.6,2.6 0 0 0 363.44,433.20 L366.92,433.20 A2.6,2.6 0 0 0 369.52,430.60 L369.52,412.20 A2.6,2.6 0 0 1 372.12,409.60 L375.60,409.60 A2.6,2.6 0 0 1 378.20,412.20 L378.20,430.60 A2.6,2.6 0 0 0 380.80,433.20 L384.28,433.20 A2.6,2.6 0 0 0 386.88,430.60 L386.88,412.20 A2.6,2.6 0 0 1 389.48,409.60 L392.96,409.60 A2.6,2.6 0 0 1 395.56,412.20 L395.56,430.60 A2.6,2.6 0 0 0 398.16,433.20 L401.64,433.20 A2.6,2.6 0 0 0 404.24,430.60 L404.24,412.20 A2.6,2.6 0 0 1 406.84,409.60 L410.32,409.60 A2.6,2.6 0 0 1 412.92,412.20 L412.92,430.60 A2.6,2.6 0 0 0 415.52,433.20 L419.00,433.20 A2.6,2.6 0 0 0 421.60,430.60 L421.60,412.20 A2.6,2.6 0 0 1 424.20,409.60 L427.68,409.60 A2.6,2.6 0 0 1 430.28,412.20 L430.28,430.60 A2.6,2.6 0 0 0 432.88,433.20 L436.36,433.20 A2.6,2.6 0 0 0 438.96,430.60 L438.96,412.20 A2.6,2.6 0 0 1 441.56,409.60 L445.04,409.60 A2.6,2.6 0 0 1 447.64,412.20 L447.64,430.60 A2.6,2.6 0 0 0 450.24,433.20 L453.72,433.20 A2.6,2.6 0 0 0 456.32,430.60 L456.32,412.20 A2.6,2.6 0 0 1 458.92,409.60 L462.40,409.60 A2.6,2.6 0 0 1 465.00,412.20 L465.00,430.60 A2.6,2.6 0 0 0 467.60,433.20 L471.08,433.20 A2.6,2.6 0 0 0 473.68,430.60 L473.68,412.20 A2.6,2.6 0 0 1 476.28,409.60 L479.76,409.60 A2.6,2.6 0 0 1 482.36,412.20 L482.36,430.60 A2.6,2.6 0 0 0 484.96,433.20 L488.44,433.20 A2.6,2.6 0 0 0 491.04,430.60 L491.04,412.20 A2.6,2.6 0 0 1 493.64,409.60 L497.12,409.60 A2.6,2.6 0 0 1 499.72,412.20 L499.72,430.60 A2.6,2.6 0 0 0 502.32,433.20 L505.80,433.20 A2.6,2.6 0 0 0 508.40,430.60 " fill="none" stroke="#fff" stroke-width="5.2"/>
</g></g>
<linearGradient id="hot" x1="0" y1="1" x2="0" y2="0"><stop offset="0" stop-color="#000"/><stop offset="0.375" stop-color="#ff0000"/><stop offset="0.75" stop-color="#ffff00"/><stop offset="1" stop-color="#ffffff"/></linearGradient>
<rect x="452.3" y="395.4" width="10" height="52.1" fill="url(#hot)" stroke="#333" stroke-width="1"/>
<text x="457.30" y="391.00" font-size="10.2" text-anchor="middle" fill="#222" stroke="#222" font-weight="normal" >max</text>
<text x="457.30" y="459.20" font-size="10.5" text-anchor="middle" fill="#222" stroke="#222" font-weight="normal" >0</text>
<text x="437.80" y="391.50" font-size="10.6" text-anchor="end" fill="#e6e6e6" stroke="none" font-weight="normal" >|H<tspan font-size="8" dy="1">z</tspan><tspan dy="-1">| @1GHz</tspan></text>
<text x="266.50" y="382.00" font-size="10.5" text-anchor="end" fill="#222" stroke="#222" font-weight="normal" >100</text>
<text x="266.50" y="468.20" font-size="10.5" text-anchor="end" fill="#222" stroke="#222" font-weight="normal" >-100</text>
<text x="270.20" y="478.00" font-size="10.5" text-anchor="middle" fill="#222" stroke="#222" font-weight="normal" >-200</text>
<text x="443.00" y="478.00" font-size="10.5" text-anchor="middle" fill="#222" stroke="#222" font-weight="normal" >200</text>
<text x="356.60" y="478.00" font-size="10.5" text-anchor="middle" fill="#222" stroke="#222" font-weight="normal" >X (mm)</text>
<text transform="translate(258,421.9) rotate(-90)" font-size="10.5" text-anchor="middle" fill="#222" stroke="#222" font-family="Liberation Sans, sans-serif">Y (mm)</text>
<text x="356.60" y="372.00" font-size="12" text-anchor="middle" fill="#222" stroke="#222" font-weight="normal" >Field distribution</text>
<text x="242.20" y="368.40" font-size="12.3" text-anchor="start" fill="#231f20" stroke="#231f20" font-weight="bold" textLength="14.1" lengthAdjust="spacingAndGlyphs" >(f)</text>
<defs><linearGradient id="gpl" gradientUnits="userSpaceOnUse" x1="20" y1="20" x2="170" y2="90"><stop offset="0" stop-color="#d4d4d4"/><stop offset="1" stop-color="#a6a6a6"/></linearGradient><linearGradient id="gpr" gradientUnits="userSpaceOnUse" x1="70" y1="10" x2="220" y2="70"><stop offset="0" stop-color="#bababa"/><stop offset="1" stop-color="#a3a3a3"/></linearGradient><linearGradient id="gpd" gradientUnits="userSpaceOnUse" x1="250" y1="20" x2="450" y2="70"><stop offset="0" stop-color="#d0d0d0"/><stop offset="1" stop-color="#a2a2a2"/></linearGradient></defs>
<polygon points="20.22,59.20 65.40,54.80 161.70,125.60 97.10,140.40" fill="url(#gpl)" stroke="none" stroke-width="0.5" />
<polyline points="20.22,59.20 65.40,54.80" fill="none" stroke="#9a9a9a" stroke-width="0.5" />
<polyline points="65.40,54.80 161.70,125.60 97.10,140.40 20.22,59.20" fill="none" stroke="#4a4a4a" stroke-width="0.6" />
<polygon points="66.10,50.90 108.00,46.80 217.60,106.60 163.50,117.50" fill="url(#gpr)" stroke="none" stroke-width="0.5" />
<polyline points="66.10,50.90 108.00,46.80" fill="none" stroke="#9a9a9a" stroke-width="0.5" />
<polyline points="108.00,46.80 217.60,106.60 163.50,117.50 66.10,50.90" fill="none" stroke="#4a4a4a" stroke-width="0.6" />
<polygon points="19.49,50.00 64.70,45.60 161.90,112.20 96.00,126.05" fill="url(#gpl)" stroke="none" stroke-width="0.5" />
<polyline points="19.49,50.00 64.70,45.60" fill="none" stroke="#9a9a9a" stroke-width="0.5" />
<polyline points="64.70,45.60 161.90,112.20 96.00,126.05 19.49,50.00" fill="none" stroke="#4a4a4a" stroke-width="0.6" />
<polygon points="65.40,41.70 107.50,37.60 218.80,93.70 164.00,104.50" fill="url(#gpr)" stroke="none" stroke-width="0.5" />
<polyline points="65.40,41.70 107.50,37.60" fill="none" stroke="#9a9a9a" stroke-width="0.5" />
<polyline points="107.50,37.60 218.80,93.70 164.00,104.50 65.40,41.70" fill="none" stroke="#4a4a4a" stroke-width="0.6" />
<polygon points="18.76,40.80 64.00,36.40 162.10,98.80 94.90,111.70" fill="url(#gpl)" stroke="none" stroke-width="0.5" />
<polyline points="18.76,40.80 64.00,36.40" fill="none" stroke="#9a9a9a" stroke-width="0.5" />
<polyline points="64.00,36.40 162.10,98.80 94.90,111.70 18.76,40.80" fill="none" stroke="#4a4a4a" stroke-width="0.6" />
<polygon points="64.70,32.50 107.00,28.40 220.00,80.80 164.50,91.50" fill="url(#gpr)" stroke="none" stroke-width="0.5" />
<polyline points="64.70,32.50 107.00,28.40" fill="none" stroke="#9a9a9a" stroke-width="0.5" />
<polyline points="107.00,28.40 220.00,80.80 164.50,91.50 64.70,32.50" fill="none" stroke="#4a4a4a" stroke-width="0.6" />
<polygon points="147.40,89.00 160.30,86.90 176.00,96.40 176.00,110.50 163.00,103.50 159.60,101.10" fill="#3c3cff" stroke="none" stroke-width="0.5" />
<polygon points="175.80,94.00 174.50,114.60 215.00,128.80" fill="#3a3aff" stroke="none" stroke-width="0.5" />
<polygon points="174.50,114.60 196.80,112.60 215.00,128.80" fill="#6c6cff" stroke="none" stroke-width="0.5" />
<line x1="175.60" y1="95.00" x2="175.00" y2="114.00" stroke="#8080ff" stroke-width="0.6" />
<polygon points="18.03,31.60 63.30,27.20 162.30,85.40 93.80,97.35" fill="url(#gpl)" stroke="none" stroke-width="0.5" />
<polyline points="18.03,31.60 63.30,27.20" fill="none" stroke="#9a9a9a" stroke-width="0.5" />
<polyline points="63.30,27.20 162.30,85.40 93.80,97.35 18.03,31.60" fill="none" stroke="#4a4a4a" stroke-width="0.6" />
<polygon points="64.00,23.30 106.50,19.20 221.20,67.90 165.00,78.50" fill="url(#gpr)" stroke="none" stroke-width="0.5" />
<polyline points="64.00,23.30 106.50,19.20" fill="none" stroke="#9a9a9a" stroke-width="0.5" />
<polyline points="106.50,19.20 221.20,67.90 165.00,78.50 64.00,23.30" fill="none" stroke="#4a4a4a" stroke-width="0.6" />
<polygon points="17.30,22.40 62.60,18.00 162.50,72.00 92.70,83.00" fill="url(#gpl)" stroke="none" stroke-width="0.5" />
<polyline points="17.30,22.40 62.60,18.00" fill="none" stroke="#9a9a9a" stroke-width="0.5" />
<polyline points="62.60,18.00 162.50,72.00 92.70,83.00 17.30,22.40" fill="none" stroke="#4a4a4a" stroke-width="0.6" />
<polygon points="63.30,14.10 106.00,10.00 222.40,55.00 165.50,65.50" fill="url(#gpr)" stroke="none" stroke-width="0.5" />
<polyline points="63.30,14.10 106.00,10.00" fill="none" stroke="#9a9a9a" stroke-width="0.5" />
<polyline points="106.00,10.00 222.40,55.00 165.50,65.50 63.30,14.10" fill="none" stroke="#4a4a4a" stroke-width="0.6" />
<polygon points="62.60,18.20 63.60,14.40 73.00,21.20" fill="#fff" stroke="none" stroke-width="0.5" />
<line x1="63.30" y1="14.10" x2="165.50" y2="65.50" stroke="#1a1aff" stroke-width="1.3" />
<line x1="73.00" y1="21.60" x2="162.50" y2="72.00" stroke="#7a7a7a" stroke-width="0.6" />
<text transform="matrix(1.38,-0.30,1.2,0.69,118.5,76.2)" font-size="9" letter-spacing="0.6" fill="#f6f6f6" stroke="#f6f6f6" stroke-width="0.45" font-family="Liberation Sans">PEC</text>
<text transform="matrix(1.31,-0.33,1.2,0.69,171,61.5)" font-size="9" letter-spacing="0.6" fill="#f6f6f6" stroke="#f6f6f6" stroke-width="0.45" font-family="Liberation Sans">PEC</text>
<line x1="20.39" y1="15.91" x2="100.51" y2="8.09" stroke="#222" stroke-width="0.8" />
<polygon points="102.50,7.90 98.67,9.88 98.36,6.70" fill="#222" stroke="none" stroke-width="0.5" />
<polygon points="18.40,16.10 22.54,17.30 22.23,14.12" fill="#222" stroke="none" stroke-width="0.5" />
<line x1="109.47" y1="9.20" x2="223.43" y2="52.10" stroke="#222" stroke-width="0.8" />
<polygon points="225.30,52.80 220.99,52.89 222.12,49.89" fill="#222" stroke="none" stroke-width="0.5" />
<polygon points="107.60,8.50 110.78,11.41 111.91,8.41" fill="#222" stroke="none" stroke-width="0.5" />
<line x1="225.30" y1="58.80" x2="225.30" y2="66.50" stroke="#222" stroke-width="0.7" />
<polygon points="225.30,68.50 224.00,65.50 226.60,65.50" fill="#222" stroke="none" stroke-width="0.5" />
<polygon points="225.30,56.80 224.00,59.80 226.60,59.80" fill="#222" stroke="none" stroke-width="0.5" />
<text x="58.30" y="9.30" font-size="10" text-anchor="middle" fill="#222" stroke="#222" font-weight="normal" >10a</text>
<text x="185.00" y="20.30" font-size="10" text-anchor="middle" fill="#222" stroke="#222" font-weight="normal" textLength="77" lengthAdjust="spacingAndGlyphs" >20a (a = 20mm)</text>
<text x="227.30" y="66.00" font-size="9.5" text-anchor="start" fill="#222" stroke="#222" font-weight="normal" >h</text>
<line x1="27.20" y1="123.60" x2="27.20" y2="110.60" stroke="#222" stroke-width="0.9" />
<polygon points="27.20,107.50 28.70,111.10 25.70,111.10" fill="#222" stroke="none" stroke-width="0.5" />
<line x1="27.20" y1="123.60" x2="42.88" y2="120.08" stroke="#222" stroke-width="0.9" />
<polygon points="45.90,119.40 42.72,121.65 42.06,118.73" fill="#222" stroke="none" stroke-width="0.5" />
<line x1="27.20" y1="123.60" x2="36.91" y2="133.31" stroke="#222" stroke-width="0.9" />
<polygon points="39.10,135.50 35.49,134.02 37.62,131.89" fill="#222" stroke="none" stroke-width="0.5" />
<text x="27.40" y="105.40" font-size="8.2" text-anchor="middle" fill="#333" stroke="none" font-weight="normal" >Z</text>
<text x="47.20" y="122.50" font-size="8.2" text-anchor="start" fill="#333" stroke="none" font-weight="normal" >Y</text>
<text x="41.00" y="140.70" font-size="8.2" text-anchor="start" fill="#333" stroke="none" font-weight="normal" >X</text>
<text x="0.00" y="9.90" font-size="12.3" text-anchor="start" fill="#231f20" stroke="#231f20" font-weight="bold" textLength="16.4" lengthAdjust="spacingAndGlyphs" >(a)</text>
<polygon points="251.40,59.10 333.20,46.60 448.20,109.30 340.70,139.70" fill="url(#gpd)" stroke="none" stroke-width="0.5" />
<polyline points="251.40,59.10 333.20,46.60" fill="none" stroke="#9a9a9a" stroke-width="0.5" />
<polyline points="333.20,46.60 448.20,109.30 340.70,139.70 251.40,59.10" fill="none" stroke="#4a4a4a" stroke-width="0.6" />
<polygon points="250.95,49.90 332.90,37.40 449.90,95.60 339.90,125.40" fill="url(#gpd)" stroke="none" stroke-width="0.5" />
<polyline points="250.95,49.90 332.90,37.40" fill="none" stroke="#9a9a9a" stroke-width="0.5" />
<polyline points="332.90,37.40 449.90,95.60 339.90,125.40 250.95,49.90" fill="none" stroke="#4a4a4a" stroke-width="0.6" />
<polygon points="250.50,40.70 332.60,28.20 451.60,81.90 339.10,111.10" fill="url(#gpd)" stroke="none" stroke-width="0.5" />
<polyline points="250.50,40.70 332.60,28.20" fill="none" stroke="#9a9a9a" stroke-width="0.5" />
<polyline points="332.60,28.20 451.60,81.90 339.10,111.10 250.50,40.70" fill="none" stroke="#4a4a4a" stroke-width="0.6" />
<polygon points="250.05,31.50 332.30,19.00 453.30,68.20 338.30,96.80" fill="url(#gpd)" stroke="none" stroke-width="0.5" />
<polyline points="250.05,31.50 332.30,19.00" fill="none" stroke="#9a9a9a" stroke-width="0.5" />
<polyline points="332.30,19.00 453.30,68.20 338.30,96.80 250.05,31.50" fill="none" stroke="#4a4a4a" stroke-width="0.6" />
<polygon points="249.60,22.30 332.00,9.80 455.00,54.50 337.50,82.50" fill="url(#gpd)" stroke="none" stroke-width="0.5" />
<polyline points="249.60,22.30 332.00,9.80" fill="none" stroke="#9a9a9a" stroke-width="0.5" />
<polyline points="332.00,9.80 455.00,54.50 337.50,82.50 249.60,22.30" fill="none" stroke="#4a4a4a" stroke-width="0.6" />
<polygon points="368.50,66.50 415.00,63.50 416.00,69.50 369.50,72.50" fill="#b4b4b4" stroke="#4a4a4a" stroke-width="0.6" />
<line x1="372.00" y1="68.50" x2="412.00" y2="66.00" stroke="#444" stroke-width="1.1" stroke-dasharray="1.2 0.8"/>
<line x1="372.00" y1="70.80" x2="412.00" y2="68.30" stroke="#555" stroke-width="0.9" stroke-dasharray="1 1"/>
<polygon points="368.50,78.50 415.00,75.50 416.00,81.50 369.50,84.50" fill="#a8a8a8" stroke="#4a4a4a" stroke-width="0.6" />
<line x1="372.00" y1="80.50" x2="405.00" y2="78.50" stroke="#333" stroke-width="1.6" stroke-dasharray="1.4 0.6"/>
<line x1="372.00" y1="82.60" x2="412.00" y2="80.20" stroke="#444" stroke-width="1.2" stroke-dasharray="1.2 0.8"/>
<polygon points="384.00,94.40 412.00,92.20 413.00,95.80 385.00,98.20" fill="#b0b0b0" stroke="#4a4a4a" stroke-width="0.6" />
<polygon points="369.20,96.90 383.50,95.20 384.20,97.90 368.30,99.60" fill="#fff" stroke="#4a4a4a" stroke-width="0.6" />
<polygon points="396.00,104.60 411.00,103.40 412.00,107.00 397.00,108.60" fill="#b0b0b0" stroke="#4a4a4a" stroke-width="0.6" />
<polygon points="368.30,108.00 397.40,104.50 398.30,108.90 367.40,112.40" fill="#fff" stroke="#4a4a4a" stroke-width="0.6" />
<polygon points="396.00,117.50 411.60,116.00 412.50,119.50 397.00,121.30" fill="#b0b0b0" stroke="#4a4a4a" stroke-width="0.6" />
<polygon points="369.00,121.50 397.40,118.20 398.30,122.20 368.00,125.70" fill="#fff" stroke="#4a4a4a" stroke-width="0.6" />
<line x1="288.3" y1="22.0" x2="314.0" y2="20.3" stroke="#505050" stroke-width="1.2" stroke-dasharray="1.3 0.9"/>
<line x1="294.8" y1="25.7" x2="320.8" y2="23.9" stroke="#505050" stroke-width="1.2" stroke-dasharray="1.3 0.9"/>
<line x1="301.8" y1="29.6" x2="328.3" y2="27.8" stroke="#505050" stroke-width="1.2" stroke-dasharray="1.3 0.9"/>
<line x1="309.0" y1="33.8" x2="336.3" y2="31.9" stroke="#505050" stroke-width="1.2" stroke-dasharray="1.3 0.9"/>
<line x1="316.7" y1="38.4" x2="345.0" y2="36.5" stroke="#505050" stroke-width="1.2" stroke-dasharray="1.3 0.9"/>
<line x1="325.2" y1="43.4" x2="354.7" y2="41.4" stroke="#505050" stroke-width="1.2" stroke-dasharray="1.3 0.9"/>
<line x1="334.5" y1="48.8" x2="365.5" y2="46.8" stroke="#505050" stroke-width="1.2" stroke-dasharray="1.3 0.9"/>
<line x1="345.9" y1="54.9" x2="378.6" y2="52.8" stroke="#505050" stroke-width="1.2" stroke-dasharray="1.3 0.9"/>
<line x1="358.9" y1="61.5" x2="393.9" y2="59.4" stroke="#505050" stroke-width="1.2" stroke-dasharray="1.3 0.9"/>
<line x1="372.1" y1="69.0" x2="409.4" y2="66.8" stroke="#505050" stroke-width="1.2" stroke-dasharray="1.3 0.9"/>
<polygon points="285.20,16.50 317.90,15.00 320.01,18.35 287.31,19.85" fill="none" stroke="#1f1fff" stroke-width="1.05" />
<polygon points="291.50,19.95 324.50,18.40 326.84,21.90 293.84,23.45" fill="none" stroke="#1f1fff" stroke-width="1.05" />
<polygon points="298.20,23.70 331.70,22.10 334.27,25.76 300.77,27.36" fill="none" stroke="#1f1fff" stroke-width="1.05" />
<polygon points="305.20,27.75 339.50,26.10 342.29,29.91 307.99,31.56" fill="none" stroke="#1f1fff" stroke-width="1.05" />
<polygon points="312.70,32.20 348.00,30.50 351.02,34.47 315.72,36.17" fill="none" stroke="#1f1fff" stroke-width="1.05" />
<polygon points="321.00,37.05 357.50,35.30 360.75,39.42 324.25,41.17" fill="none" stroke="#1f1fff" stroke-width="1.05" />
<polygon points="330.00,42.30 368.00,40.50 371.48,44.78 333.48,46.58" fill="none" stroke="#1f1fff" stroke-width="1.05" />
<polygon points="341.20,48.25 380.90,46.40 384.60,50.84 344.90,52.69" fill="none" stroke="#1f1fff" stroke-width="1.05" />
<polygon points="354.00,54.70 396.00,52.80 399.93,57.39 357.93,59.29" fill="none" stroke="#1f1fff" stroke-width="1.05" />
<polygon points="366.90,62.05 411.20,60.10 415.36,64.85 371.06,66.80" fill="none" stroke="#1f1fff" stroke-width="1.05" />
<line x1="415.36" y1="64.85" x2="419.50" y2="63.20" stroke="#1f1fff" stroke-width="1.15" />
<polygon points="283.00,19.50 292.00,18.50 293.00,20.80 284.00,21.80" fill="#fff" stroke="none" stroke-width="0.5" />
<polyline points="244.40,66.60 304.20,31.40 350.90,26.80 367.00,35.50 315.50,128.20" fill="none" stroke="#3A9AA3" stroke-width="1.2" />
<polyline points="304.20,31.40 318.00,40.00 367.00,35.50" fill="none" stroke="#3A9AA3" stroke-width="1.0" />
<rect x="244.4" y="66.7" width="70.9" height="61.5" fill="#fff" stroke="#3A9AA3" stroke-width="1.2"/>
<rect x="301.8" y="67.3" width="12.9" height="60.3" fill="#999"/>
<rect x="256" y="75.1" width="45.8" height="14.8" fill="#a2a2a2"/>
<rect x="256" y="105.3" width="45.8" height="15.2" fill="#a2a2a2"/>
<polyline points="301.80,67.30 301.80,75.10 256.30,75.10 256.30,89.90 301.80,89.90 301.80,105.30 256.30,105.30 256.30,120.50 301.80,120.50 301.80,127.60" fill="none" stroke="#1a1aff" stroke-width="1.2" />
<line x1="276.40" y1="77.60" x2="276.40" y2="87.40" stroke="#222" stroke-width="0.8" />
<polygon points="276.40,75.60 275.10,78.60 277.70,78.60" fill="#222" stroke="none" stroke-width="0.5" />
<polygon points="276.40,89.40 275.10,86.40 277.70,86.40" fill="#222" stroke="none" stroke-width="0.5" />
<line x1="256.30" y1="93.00" x2="256.30" y2="102.90" stroke="#222" stroke-width="0.8" />
<polygon points="256.30,91.00 255.00,94.00 257.60,94.00" fill="#222" stroke="none" stroke-width="0.5" />
<polygon points="256.30,104.90 255.00,101.90 257.60,101.90" fill="#222" stroke="none" stroke-width="0.5" />
<line x1="258.80" y1="108.30" x2="299.10" y2="108.30" stroke="#222" stroke-width="0.8" />
<polygon points="256.80,108.30 259.80,107.00 259.80,109.60" fill="#222" stroke="none" stroke-width="0.5" />
<polygon points="301.10,108.30 298.10,107.00 298.10,109.60" fill="#222" stroke="none" stroke-width="0.5" />
<text x="278.50" y="85.50" font-size="10" text-anchor="start" fill="#222" stroke="#222" font-weight="normal" >w</text>
<text x="258.80" y="100.60" font-size="10" text-anchor="start" fill="#222" stroke="#222" font-weight="normal" >w</text>
<text x="277.20" y="117.30" font-size="10" text-anchor="start" fill="#222" stroke="#222" font-weight="normal" >l</text>
<line x1="249.50" y1="71.50" x2="249.50" y2="79.00" stroke="#222" stroke-width="0.8" />
<polygon points="249.50,81.60 248.20,78.60 250.80,78.60" fill="#222" stroke="none" stroke-width="0.5" />
<line x1="249.50" y1="71.50" x2="257.00" y2="71.50" stroke="#222" stroke-width="0.8" />
<polygon points="259.60,71.50 256.60,70.20 256.60,72.80" fill="#222" stroke="none" stroke-width="0.5" />
<text x="260.80" y="73.80" font-size="7.2" text-anchor="start" fill="#222" stroke="#222" font-weight="normal" >Y</text>
<text x="247.10" y="89.60" font-size="7.2" text-anchor="start" fill="#222" stroke="#222" font-weight="normal" >X</text>
<text x="240.60" y="9.90" font-size="12.3" text-anchor="start" fill="#231f20" stroke="#231f20" font-weight="bold" textLength="18.3" lengthAdjust="spacingAndGlyphs" >(d)</text>
<defs>
<linearGradient id="gs0" gradientUnits="userSpaceOnUse" x1="535.2" y1="0" x2="549.2" y2="0"><stop offset="0" stop-color="#858585"/><stop offset="0.18" stop-color="#a4a4a4"/><stop offset="0.45" stop-color="#9b9b9b"/><stop offset="0.8" stop-color="#8c8c8c"/><stop offset="1" stop-color="#898989"/></linearGradient>
<linearGradient id="gs1" gradientUnits="userSpaceOnUse" x1="541.6" y1="0" x2="555.6" y2="0"><stop offset="0" stop-color="#858585"/><stop offset="0.18" stop-color="#a4a4a4"/><stop offset="0.45" stop-color="#9b9b9b"/><stop offset="0.8" stop-color="#8c8c8c"/><stop offset="1" stop-color="#898989"/></linearGradient>
<linearGradient id="gs2" gradientUnits="userSpaceOnUse" x1="548.7" y1="0" x2="562.7" y2="0"><stop offset="0" stop-color="#858585"/><stop offset="0.18" stop-color="#a4a4a4"/><stop offset="0.45" stop-color="#9b9b9b"/><stop offset="0.8" stop-color="#8c8c8c"/><stop offset="1" stop-color="#898989"/></linearGradient>
<linearGradient id="gs3" gradientUnits="userSpaceOnUse" x1="556.2" y1="0" x2="570.2" y2="0"><stop offset="0" stop-color="#858585"/><stop offset="0.18" stop-color="#a4a4a4"/><stop offset="0.45" stop-color="#9b9b9b"/><stop offset="0.8" stop-color="#8c8c8c"/><stop offset="1" stop-color="#898989"/></linearGradient>
<linearGradient id="gs4" gradientUnits="userSpaceOnUse" x1="563.6" y1="0" x2="577.6" y2="0"><stop offset="0" stop-color="#858585"/><stop offset="0.18" stop-color="#a4a4a4"/><stop offset="0.45" stop-color="#9b9b9b"/><stop offset="0.8" stop-color="#8c8c8c"/><stop offset="1" stop-color="#898989"/></linearGradient>
<linearGradient id="gs5" gradientUnits="userSpaceOnUse" x1="573" y1="0" x2="587" y2="0"><stop offset="0" stop-color="#858585"/><stop offset="0.18" stop-color="#a4a4a4"/><stop offset="0.45" stop-color="#9b9b9b"/><stop offset="0.8" stop-color="#8c8c8c"/><stop offset="1" stop-color="#898989"/></linearGradient>
<linearGradient id="gs6" gradientUnits="userSpaceOnUse" x1="582.3" y1="0" x2="596.3" y2="0"><stop offset="0" stop-color="#858585"/><stop offset="0.18" stop-color="#a4a4a4"/><stop offset="0.45" stop-color="#9b9b9b"/><stop offset="0.8" stop-color="#8c8c8c"/><stop offset="1" stop-color="#898989"/></linearGradient>
<linearGradient id="gs7" gradientUnits="userSpaceOnUse" x1="593.6" y1="0" x2="607.6" y2="0"><stop offset="0" stop-color="#858585"/><stop offset="0.18" stop-color="#a4a4a4"/><stop offset="0.45" stop-color="#9b9b9b"/><stop offset="0.8" stop-color="#8c8c8c"/><stop offset="1" stop-color="#898989"/></linearGradient>
<linearGradient id="gs8" gradientUnits="userSpaceOnUse" x1="604.8" y1="0" x2="618.8" y2="0"><stop offset="0" stop-color="#858585"/><stop offset="0.18" stop-color="#a4a4a4"/><stop offset="0.45" stop-color="#9b9b9b"/><stop offset="0.8" stop-color="#8c8c8c"/><stop offset="1" stop-color="#898989"/></linearGradient>
<linearGradient id="gs9" gradientUnits="userSpaceOnUse" x1="617.1" y1="0" x2="631.1" y2="0"><stop offset="0" stop-color="#858585"/><stop offset="0.18" stop-color="#a4a4a4"/><stop offset="0.45" stop-color="#9b9b9b"/><stop offset="0.8" stop-color="#8c8c8c"/><stop offset="1" stop-color="#898989"/></linearGradient>
</defs>
<path d="M535.2,16.5 Q535.2,11.8 539.7,11.6 L575,10.9 L575,54.62200000000001 L540.2,59 Q535.2,59 535.2,55 Z" fill="url(#gs0)" stroke="#6e6e6e" stroke-width="0.4"/>
<path d="M538.2,11.8 L575,10.9 Q578.6,7.5 575,4.1000000000000005 L541.7,4.9 Q535.5,5.3 535.8000000000001,8.9 Q536.2,11.8 538.2,11.8 Z" fill="#b6b6b6" stroke="#8a8a8a" stroke-width="0.4"/>
<line x1="542.2" y1="7.9" x2="573.5" y2="7.300000000000001" stroke="#5a5a5a" stroke-width="1.0" stroke-dasharray="1.5 0.8"/>
<line x1="542.2" y1="9.4" x2="573.5" y2="8.8" stroke="#808080" stroke-width="0.6" stroke-dasharray="1.2 1"/>
<path d="M541.6,20.3 Q541.6,15.600000000000001 546.1,15.4 L584.8,14.700000000000001 L584.8,62.248000000000005 L546.6,67 Q541.6,67 541.6,63 Z" fill="url(#gs1)" stroke="#6e6e6e" stroke-width="0.4"/>
<path d="M544.6,15.600000000000001 L584.8,14.700000000000001 Q588.4,11.3 584.8,7.900000000000001 L548.1,8.700000000000001 Q541.9,9.100000000000001 542.2,12.700000000000001 Q542.6,15.600000000000001 544.6,15.600000000000001 Z" fill="#b6b6b6" stroke="#8a8a8a" stroke-width="0.4"/>
<line x1="548.6" y1="11.700000000000001" x2="583.3" y2="11.100000000000001" stroke="#5a5a5a" stroke-width="1.0" stroke-dasharray="1.5 0.8"/>
<line x1="548.6" y1="13.200000000000001" x2="583.3" y2="12.600000000000001" stroke="#808080" stroke-width="0.6" stroke-dasharray="1.2 1"/>
<path d="M548.7,23.5 Q548.7,18.8 553.2,18.6 L592.5,17.9 L592.5,68.982 L553.7,73.8 Q548.7,73.8 548.7,69.8 Z" fill="url(#gs2)" stroke="#6e6e6e" stroke-width="0.4"/>
<path d="M551.7,18.8 L592.5,17.9 Q596.1,14.499999999999998 592.5,11.099999999999998 L555.2,11.9 Q549.0,12.3 549.3000000000001,15.9 Q549.7,18.8 551.7,18.8 Z" fill="#b6b6b6" stroke="#8a8a8a" stroke-width="0.4"/>
<line x1="555.7" y1="14.9" x2="591.0" y2="14.299999999999999" stroke="#5a5a5a" stroke-width="1.0" stroke-dasharray="1.5 0.8"/>
<line x1="555.7" y1="16.4" x2="591.0" y2="15.799999999999999" stroke="#808080" stroke-width="0.6" stroke-dasharray="1.2 1"/>
<path d="M556.2,27.8 Q556.2,23.1 560.7,22.900000000000002 L602.3,22.2 L602.3,74.32900000000002 L561.2,79.4 Q556.2,79.4 556.2,75.4 Z" fill="url(#gs3)" stroke="#6e6e6e" stroke-width="0.4"/>
<path d="M559.2,23.1 L602.3,22.2 Q605.9,18.8 602.3,15.399999999999999 L562.7,16.200000000000003 Q556.5,16.6 556.8000000000001,20.2 Q557.2,23.1 559.2,23.1 Z" fill="#b6b6b6" stroke="#8a8a8a" stroke-width="0.4"/>
<line x1="563.2" y1="19.2" x2="600.8" y2="18.599999999999998" stroke="#5a5a5a" stroke-width="1.0" stroke-dasharray="1.5 0.8"/>
<line x1="563.2" y1="20.7" x2="600.8" y2="20.099999999999998" stroke="#808080" stroke-width="0.6" stroke-dasharray="1.2 1"/>
<path d="M563.6,32.4 Q563.6,27.7 568.1,27.5 L612.6,26.799999999999997 L612.6,80.81 L568.6,86.2 Q563.6,86.2 563.6,82.2 Z" fill="url(#gs4)" stroke="#6e6e6e" stroke-width="0.4"/>
<path d="M566.6,27.7 L612.6,26.799999999999997 Q616.2,23.4 612.6,19.999999999999996 L570.1,20.799999999999997 Q563.9,21.2 564.2,24.799999999999997 Q564.6,27.7 566.6,27.7 Z" fill="#b6b6b6" stroke="#8a8a8a" stroke-width="0.4"/>
<line x1="570.6" y1="23.799999999999997" x2="611.1" y2="23.199999999999996" stroke="#5a5a5a" stroke-width="1.0" stroke-dasharray="1.5 0.8"/>
<line x1="570.6" y1="25.299999999999997" x2="611.1" y2="24.699999999999996" stroke="#808080" stroke-width="0.6" stroke-dasharray="1.2 1"/>
<path d="M573,37.1 Q573,32.4 577.5,32.2 L622.8,31.5 L622.8,88.622 L578,94.1 Q573,94.1 573,90.1 Z" fill="url(#gs5)" stroke="#6e6e6e" stroke-width="0.4"/>
<path d="M576,32.4 L622.8,31.5 Q626.4,28.1 622.8,24.7 L579.5,25.5 Q573.3,25.900000000000002 573.6,29.5 Q574,32.4 576,32.4 Z" fill="#b6b6b6" stroke="#8a8a8a" stroke-width="0.4"/>
<line x1="580" y1="28.5" x2="621.3" y2="27.9" stroke="#5a5a5a" stroke-width="1.0" stroke-dasharray="1.5 0.8"/>
<line x1="580" y1="30.0" x2="621.3" y2="29.4" stroke="#808080" stroke-width="0.6" stroke-dasharray="1.2 1"/>
<path d="M582.3,42.7 Q582.3,38.0 586.8,37.800000000000004 L635.9,37.1 L635.9,95.104 L587.3,101 Q582.3,101 582.3,97 Z" fill="url(#gs6)" stroke="#6e6e6e" stroke-width="0.4"/>
<path d="M585.3,38.0 L635.9,37.1 Q639.5,33.7 635.9,30.3 L588.8,31.1 Q582.5999999999999,31.500000000000004 582.9,35.1 Q583.3,38.0 585.3,38.0 Z" fill="#b6b6b6" stroke="#8a8a8a" stroke-width="0.4"/>
<line x1="589.3" y1="34.1" x2="634.4" y2="33.5" stroke="#5a5a5a" stroke-width="1.0" stroke-dasharray="1.5 0.8"/>
<line x1="589.3" y1="35.6" x2="634.4" y2="35.0" stroke="#808080" stroke-width="0.6" stroke-dasharray="1.2 1"/>
<path d="M593.6,48.3 Q593.6,43.599999999999994 598.1,43.4 L649,42.699999999999996 L649,103.906 L598.6,110 Q593.6,110 593.6,106 Z" fill="url(#gs7)" stroke="#6e6e6e" stroke-width="0.4"/>
<path d="M596.6,43.599999999999994 L649,42.699999999999996 Q652.6,39.3 649,35.9 L600.1,36.699999999999996 Q593.9,37.099999999999994 594.2,40.699999999999996 Q594.6,43.599999999999994 596.6,43.599999999999994 Z" fill="#b6b6b6" stroke="#8a8a8a" stroke-width="0.4"/>
<line x1="600.6" y1="39.699999999999996" x2="647.5" y2="39.099999999999994" stroke="#5a5a5a" stroke-width="1.0" stroke-dasharray="1.5 0.8"/>
<line x1="600.6" y1="41.199999999999996" x2="647.5" y2="40.599999999999994" stroke="#808080" stroke-width="0.6" stroke-dasharray="1.2 1"/>
<path d="M604.8,54.9 Q604.8,50.199999999999996 609.3,50.0 L660,49.3 L660,115.228 L609.8,121.3 Q604.8,121.3 604.8,117.3 Z" fill="url(#gs8)" stroke="#6e6e6e" stroke-width="0.4"/>
<path d="M607.8,50.199999999999996 L660,49.3 Q663.6,45.9 660,42.5 L611.3,43.3 Q605.0999999999999,43.699999999999996 605.4,47.3 Q605.8,50.199999999999996 607.8,50.199999999999996 Z" fill="#b6b6b6" stroke="#8a8a8a" stroke-width="0.4"/>
<line x1="611.8" y1="46.3" x2="658.5" y2="45.699999999999996" stroke="#5a5a5a" stroke-width="1.0" stroke-dasharray="1.5 0.8"/>
<line x1="611.8" y1="47.8" x2="658.5" y2="47.199999999999996" stroke="#808080" stroke-width="0.6" stroke-dasharray="1.2 1"/>
<path d="M617.1,62.0 Q617.1,57.3 621.6,57.1 L664.5,56.4 L664.5,126.286 L622.1,131.5 Q617.1,131.5 617.1,127.5 Z" fill="url(#gs9)" stroke="#6e6e6e" stroke-width="0.4"/>
<path d="M620.1,57.3 L664.5,56.4 Q668.1,53.0 664.5,49.6 L623.6,50.4 Q617.4,50.8 617.7,54.4 Q618.1,57.3 620.1,57.3 Z" fill="#b6b6b6" stroke="#8a8a8a" stroke-width="0.4"/>
<line x1="624.1" y1="53.4" x2="663.0" y2="52.8" stroke="#5a5a5a" stroke-width="1.0" stroke-dasharray="1.5 0.8"/>
<line x1="624.1" y1="54.9" x2="663.0" y2="54.3" stroke="#808080" stroke-width="0.6" stroke-dasharray="1.2 1"/>
<path d="M664.5,58 L664.5,52.5 L676,51.3 Q679.4,51.8 679.4,55 L678.8,124 L674.8,124.7 L664.5,126.4 Z" fill="#8c8c8c" stroke="#6e6e6e" stroke-width="0.4"/>
<path d="M664.5,58 L678.8,55.6 L679.4,55 Q679.4,51.8 676,51.3 L666,52.3 Z" fill="#a8a8a8"/>
<line x1="667.5" y1="56" x2="667" y2="125" stroke="#6a6a6a" stroke-width="0.6" stroke-dasharray="2 1.5"/>
<line x1="671" y1="55" x2="670.5" y2="125" stroke="#6a6a6a" stroke-width="0.5" stroke-dasharray="2 1.5"/>
<line x1="660.80" y1="61.00" x2="660.80" y2="124.00" stroke="#2a2a2a" stroke-width="0.9" />
<polygon points="660.80,58.50 659.10,63.00 662.50,63.00" fill="#2a2a2a" stroke="none" stroke-width="0.5" />
<polygon points="660.80,126.20 659.10,121.70 662.50,121.70" fill="#2a2a2a" stroke="none" stroke-width="0.5" />
<text x="646.3" y="97.5" font-size="10.5" fill="#2a2a2a" stroke="#2a2a2a" font-family="Liberation Sans">a<tspan font-size="7.5" dy="1.5">w</tspan></text>
<polyline points="466.00,88.30 563.70,31.70 614.20,26.00 631.10,30.80 572.50,127.60" fill="none" stroke="#3A9AA3" stroke-width="1.2" />
<polyline points="563.70,31.70 572.10,38.10 631.10,30.80" fill="none" stroke="#3A9AA3" stroke-width="1.0" />
<rect x="466.2" y="88.7" width="106.5" height="38.9" fill="#fff" stroke="#3A9AA3" stroke-width="1.2"/>
<path d="M497.8,91.5 L547,91.5 L550,90 L562,89.8 L562,91 Q552,92 549,99 Q547,105.3 540,105.3 L497.8,105.3 L497.8,110.3 L540,110.3 Q547,110.3 549,116.5 Q552,124 562,125.5 L562,126.4 L550,126.4 L547,124.8 L497.8,124.8 Q481.4,124.8 481.4,108.2 Q481.4,91.5 497.8,91.5 Z" fill="#959595"/>
<rect x="497.8" y="105.3" width="3" height="5" fill="#d8d8d8"/>
<line x1="515.80" y1="94.00" x2="515.80" y2="103.30" stroke="#222" stroke-width="0.8" />
<polygon points="515.80,92.00 514.50,95.00 517.10,95.00" fill="#222" stroke="none" stroke-width="0.5" />
<polygon points="515.80,105.30 514.50,102.30 517.10,102.30" fill="#222" stroke="none" stroke-width="0.5" />
<line x1="501.40" y1="113.60" x2="542.40" y2="113.60" stroke="#222" stroke-width="0.8" />
<polygon points="499.40,113.60 502.40,112.30 502.40,114.90" fill="#222" stroke="none" stroke-width="0.5" />
<polygon points="544.40,113.60 541.40,112.30 541.40,114.90" fill="#222" stroke="none" stroke-width="0.5" />
<line x1="561.80" y1="92.30" x2="561.80" y2="124.40" stroke="#222" stroke-width="0.8" />
<polygon points="561.80,90.30 560.50,93.30 563.10,93.30" fill="#222" stroke="none" stroke-width="0.5" />
<polygon points="561.80,126.40 560.50,123.40 563.10,123.40" fill="#222" stroke="none" stroke-width="0.5" />
<text x="521.90" y="102.30" font-size="10.5" text-anchor="start" fill="#222" stroke="#222" font-weight="normal" >b<tspan font-size="7.5" dy="1.5">w</tspan></text>
<text x="515.80" y="122.00" font-size="10.5" text-anchor="start" fill="#222" stroke="#222" font-weight="normal" >h<tspan font-size="7.5" dy="1.5">s</tspan></text>
<text x="564.20" y="111.50" font-size="10.5" text-anchor="start" fill="#222" stroke="#222" font-weight="normal" >p</text>
<line x1="470.30" y1="92.30" x2="470.30" y2="100.50" stroke="#222" stroke-width="0.8" />
<polygon points="470.30,103.10 469.00,100.10 471.60,100.10" fill="#222" stroke="none" stroke-width="0.5" />
<line x1="470.30" y1="92.30" x2="477.00" y2="92.30" stroke="#222" stroke-width="0.8" />
<polygon points="479.50,92.30 476.50,91.00 476.50,93.60" fill="#222" stroke="none" stroke-width="0.5" />
<text x="480.60" y="95.60" font-size="7.2" text-anchor="start" fill="#222" stroke="#222" font-weight="normal" >Y</text>
<text x="468.40" y="111.50" font-size="7.2" text-anchor="start" fill="#222" stroke="#222" font-weight="normal" >X</text>
<text x="466.40" y="9.90" font-size="12.3" text-anchor="start" fill="#231f20" stroke="#231f20" font-weight="bold" textLength="17.6" lengthAdjust="spacingAndGlyphs" >(g)</text>
</svg></body></html>
